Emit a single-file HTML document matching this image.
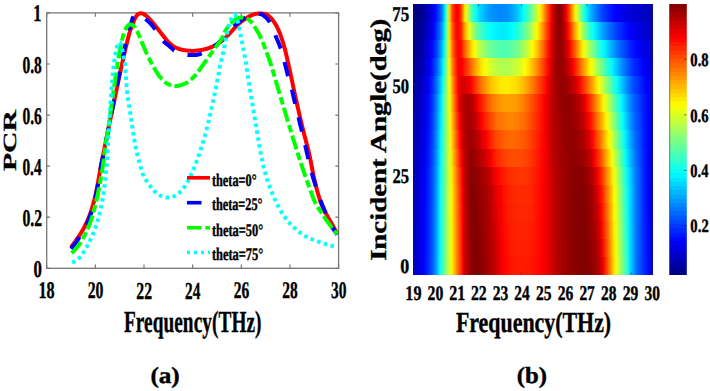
<!DOCTYPE html>
<html><head><meta charset="utf-8"><style>
html,body{margin:0;padding:0;background:#fff;}
svg{display:block;}
text{font-family:"Liberation Serif",serif;font-weight:bold;text-rendering:geometricPrecision;stroke:#000;stroke-width:4px;}
</style></head><body>
<svg width="710" height="391" viewBox="0 0 710 391">
<defs><linearGradient id="r0" gradientUnits="objectBoundingBox" x1="0" y1="0" x2="1" y2="0"><stop offset="0.0079" stop-color="#0000c3"/><stop offset="0.0169" stop-color="#0000d0"/><stop offset="0.0259" stop-color="#0000de"/><stop offset="0.0350" stop-color="#0000ed"/><stop offset="0.0440" stop-color="#0000fd"/><stop offset="0.0530" stop-color="#0010ff"/><stop offset="0.0621" stop-color="#0024ff"/><stop offset="0.0711" stop-color="#003cff"/><stop offset="0.0801" stop-color="#0059ff"/><stop offset="0.0892" stop-color="#007cff"/><stop offset="0.0982" stop-color="#00a7ff"/><stop offset="0.1072" stop-color="#00deff"/><stop offset="0.1163" stop-color="#15ffea"/><stop offset="0.1253" stop-color="#47ffb8"/><stop offset="0.1343" stop-color="#79ff86"/><stop offset="0.1434" stop-color="#aaff55"/><stop offset="0.1524" stop-color="#daff25"/><stop offset="0.1614" stop-color="#fff500"/><stop offset="0.1705" stop-color="#ffc500"/><stop offset="0.1795" stop-color="#ff9600"/><stop offset="0.1885" stop-color="#ff6700"/><stop offset="0.1976" stop-color="#ff3a00"/><stop offset="0.2066" stop-color="#ff0a00"/><stop offset="0.2156" stop-color="#d30000"/><stop offset="0.2247" stop-color="#b10000"/><stop offset="0.2337" stop-color="#a00000"/><stop offset="0.2427" stop-color="#8f0000"/><stop offset="0.2518" stop-color="#860000"/><stop offset="0.2608" stop-color="#810000"/><stop offset="0.2698" stop-color="#830000"/><stop offset="0.2789" stop-color="#880000"/><stop offset="0.2879" stop-color="#8e0000"/><stop offset="0.2969" stop-color="#960000"/><stop offset="0.3060" stop-color="#9d0000"/><stop offset="0.3150" stop-color="#a60000"/><stop offset="0.3240" stop-color="#ae0000"/><stop offset="0.3331" stop-color="#b70000"/><stop offset="0.3421" stop-color="#c30000"/><stop offset="0.3511" stop-color="#d30000"/><stop offset="0.3602" stop-color="#e30000"/><stop offset="0.3692" stop-color="#f10000"/><stop offset="0.3782" stop-color="#fc0000"/><stop offset="0.3873" stop-color="#ff0600"/><stop offset="0.3963" stop-color="#ff0c00"/><stop offset="0.4054" stop-color="#ff1100"/><stop offset="0.4144" stop-color="#ff1500"/><stop offset="0.4234" stop-color="#ff1800"/><stop offset="0.4325" stop-color="#ff1a00"/><stop offset="0.4415" stop-color="#ff1b00"/><stop offset="0.4505" stop-color="#ff1c00"/><stop offset="0.4596" stop-color="#ff1c00"/><stop offset="0.4686" stop-color="#ff1a00"/><stop offset="0.4776" stop-color="#ff1900"/><stop offset="0.4867" stop-color="#ff1700"/><stop offset="0.4957" stop-color="#ff1400"/><stop offset="0.5047" stop-color="#ff1100"/><stop offset="0.5138" stop-color="#ff0d00"/><stop offset="0.5228" stop-color="#ff0800"/><stop offset="0.5318" stop-color="#ff0200"/><stop offset="0.5409" stop-color="#fb0000"/><stop offset="0.5499" stop-color="#f30000"/><stop offset="0.5589" stop-color="#ea0000"/><stop offset="0.5680" stop-color="#df0000"/><stop offset="0.5770" stop-color="#d40000"/><stop offset="0.5860" stop-color="#c70000"/><stop offset="0.5951" stop-color="#ba0000"/><stop offset="0.6041" stop-color="#b30000"/><stop offset="0.6131" stop-color="#ab0000"/><stop offset="0.6222" stop-color="#a40000"/><stop offset="0.6312" stop-color="#9e0000"/><stop offset="0.6402" stop-color="#990000"/><stop offset="0.6493" stop-color="#940000"/><stop offset="0.6583" stop-color="#900000"/><stop offset="0.6673" stop-color="#8c0000"/><stop offset="0.6764" stop-color="#880000"/><stop offset="0.6854" stop-color="#850000"/><stop offset="0.6944" stop-color="#830000"/><stop offset="0.7035" stop-color="#820000"/><stop offset="0.7125" stop-color="#820000"/><stop offset="0.7215" stop-color="#840000"/><stop offset="0.7306" stop-color="#870000"/><stop offset="0.7396" stop-color="#8d0000"/><stop offset="0.7486" stop-color="#930000"/><stop offset="0.7577" stop-color="#9c0000"/><stop offset="0.7667" stop-color="#a80000"/><stop offset="0.7757" stop-color="#b70000"/><stop offset="0.7848" stop-color="#d40000"/><stop offset="0.7938" stop-color="#fd0000"/><stop offset="0.8029" stop-color="#ff2d00"/><stop offset="0.8119" stop-color="#ff5800"/><stop offset="0.8209" stop-color="#ff8600"/><stop offset="0.8300" stop-color="#ffb600"/><stop offset="0.8390" stop-color="#ffe400"/><stop offset="0.8480" stop-color="#eeff11"/><stop offset="0.8571" stop-color="#c3ff3c"/><stop offset="0.8661" stop-color="#9aff65"/><stop offset="0.8751" stop-color="#73ff8c"/><stop offset="0.8842" stop-color="#4dffb2"/><stop offset="0.8932" stop-color="#20ffdf"/><stop offset="0.9022" stop-color="#00ebff"/><stop offset="0.9113" stop-color="#00bfff"/><stop offset="0.9203" stop-color="#0099ff"/><stop offset="0.9293" stop-color="#0079ff"/><stop offset="0.9384" stop-color="#0060ff"/><stop offset="0.9474" stop-color="#004cff"/><stop offset="0.9564" stop-color="#003aff"/><stop offset="0.9655" stop-color="#0028ff"/><stop offset="0.9745" stop-color="#0017ff"/><stop offset="0.9835" stop-color="#0005ff"/><stop offset="0.9926" stop-color="#0000f1"/></linearGradient><linearGradient id="r1" gradientUnits="objectBoundingBox" x1="0" y1="0" x2="1" y2="0"><stop offset="0.0079" stop-color="#0000c1"/><stop offset="0.0169" stop-color="#0000ce"/><stop offset="0.0259" stop-color="#0000dd"/><stop offset="0.0350" stop-color="#0000eb"/><stop offset="0.0440" stop-color="#0000fb"/><stop offset="0.0530" stop-color="#000eff"/><stop offset="0.0621" stop-color="#0022ff"/><stop offset="0.0711" stop-color="#003aff"/><stop offset="0.0801" stop-color="#0057ff"/><stop offset="0.0892" stop-color="#007aff"/><stop offset="0.0982" stop-color="#00a5ff"/><stop offset="0.1072" stop-color="#00dcff"/><stop offset="0.1163" stop-color="#15ffea"/><stop offset="0.1253" stop-color="#47ffb8"/><stop offset="0.1343" stop-color="#78ff87"/><stop offset="0.1434" stop-color="#a9ff56"/><stop offset="0.1524" stop-color="#daff25"/><stop offset="0.1614" stop-color="#fff400"/><stop offset="0.1705" stop-color="#ffc400"/><stop offset="0.1795" stop-color="#ff9400"/><stop offset="0.1885" stop-color="#ff6500"/><stop offset="0.1976" stop-color="#ff3600"/><stop offset="0.2066" stop-color="#ff0400"/><stop offset="0.2156" stop-color="#cf0000"/><stop offset="0.2247" stop-color="#af0000"/><stop offset="0.2337" stop-color="#9d0000"/><stop offset="0.2427" stop-color="#8e0000"/><stop offset="0.2518" stop-color="#860000"/><stop offset="0.2608" stop-color="#830000"/><stop offset="0.2698" stop-color="#850000"/><stop offset="0.2789" stop-color="#8b0000"/><stop offset="0.2879" stop-color="#910000"/><stop offset="0.2969" stop-color="#980000"/><stop offset="0.3060" stop-color="#a00000"/><stop offset="0.3150" stop-color="#a90000"/><stop offset="0.3240" stop-color="#b20000"/><stop offset="0.3331" stop-color="#bb0000"/><stop offset="0.3421" stop-color="#ca0000"/><stop offset="0.3511" stop-color="#da0000"/><stop offset="0.3602" stop-color="#e80000"/><stop offset="0.3692" stop-color="#f50000"/><stop offset="0.3782" stop-color="#ff0100"/><stop offset="0.3873" stop-color="#ff0a00"/><stop offset="0.3963" stop-color="#ff1100"/><stop offset="0.4054" stop-color="#ff1600"/><stop offset="0.4144" stop-color="#ff1a00"/><stop offset="0.4234" stop-color="#ff1c00"/><stop offset="0.4325" stop-color="#ff1e00"/><stop offset="0.4415" stop-color="#ff1f00"/><stop offset="0.4505" stop-color="#ff2000"/><stop offset="0.4596" stop-color="#ff2000"/><stop offset="0.4686" stop-color="#ff1f00"/><stop offset="0.4776" stop-color="#ff1d00"/><stop offset="0.4867" stop-color="#ff1b00"/><stop offset="0.4957" stop-color="#ff1800"/><stop offset="0.5047" stop-color="#ff1400"/><stop offset="0.5138" stop-color="#ff0f00"/><stop offset="0.5228" stop-color="#ff0a00"/><stop offset="0.5318" stop-color="#ff0400"/><stop offset="0.5409" stop-color="#fb0000"/><stop offset="0.5499" stop-color="#f30000"/><stop offset="0.5589" stop-color="#e90000"/><stop offset="0.5680" stop-color="#de0000"/><stop offset="0.5770" stop-color="#d20000"/><stop offset="0.5860" stop-color="#c50000"/><stop offset="0.5951" stop-color="#ba0000"/><stop offset="0.6041" stop-color="#b30000"/><stop offset="0.6131" stop-color="#ab0000"/><stop offset="0.6222" stop-color="#a40000"/><stop offset="0.6312" stop-color="#9e0000"/><stop offset="0.6402" stop-color="#980000"/><stop offset="0.6493" stop-color="#940000"/><stop offset="0.6583" stop-color="#8f0000"/><stop offset="0.6673" stop-color="#8b0000"/><stop offset="0.6764" stop-color="#880000"/><stop offset="0.6854" stop-color="#840000"/><stop offset="0.6944" stop-color="#830000"/><stop offset="0.7035" stop-color="#820000"/><stop offset="0.7125" stop-color="#830000"/><stop offset="0.7215" stop-color="#860000"/><stop offset="0.7306" stop-color="#8a0000"/><stop offset="0.7396" stop-color="#900000"/><stop offset="0.7486" stop-color="#980000"/><stop offset="0.7577" stop-color="#a30000"/><stop offset="0.7667" stop-color="#b00000"/><stop offset="0.7757" stop-color="#c10000"/><stop offset="0.7848" stop-color="#e40000"/><stop offset="0.7938" stop-color="#ff0f00"/><stop offset="0.8029" stop-color="#ff3900"/><stop offset="0.8119" stop-color="#ff6300"/><stop offset="0.8209" stop-color="#ff8f00"/><stop offset="0.8300" stop-color="#ffbe00"/><stop offset="0.8390" stop-color="#ffea00"/><stop offset="0.8480" stop-color="#e8ff17"/><stop offset="0.8571" stop-color="#bdff42"/><stop offset="0.8661" stop-color="#95ff6a"/><stop offset="0.8751" stop-color="#6dff92"/><stop offset="0.8842" stop-color="#46ffb9"/><stop offset="0.8932" stop-color="#19ffe6"/><stop offset="0.9022" stop-color="#00e8ff"/><stop offset="0.9113" stop-color="#00beff"/><stop offset="0.9203" stop-color="#009aff"/><stop offset="0.9293" stop-color="#007aff"/><stop offset="0.9384" stop-color="#0061ff"/><stop offset="0.9474" stop-color="#004cff"/><stop offset="0.9564" stop-color="#0039ff"/><stop offset="0.9655" stop-color="#0026ff"/><stop offset="0.9745" stop-color="#0015ff"/><stop offset="0.9835" stop-color="#0003ff"/><stop offset="0.9926" stop-color="#0000f1"/></linearGradient><linearGradient id="r2" gradientUnits="objectBoundingBox" x1="0" y1="0" x2="1" y2="0"><stop offset="0.0079" stop-color="#0000c0"/><stop offset="0.0169" stop-color="#0000cd"/><stop offset="0.0259" stop-color="#0000db"/><stop offset="0.0350" stop-color="#0000ea"/><stop offset="0.0440" stop-color="#0000f9"/><stop offset="0.0530" stop-color="#000cff"/><stop offset="0.0621" stop-color="#0020ff"/><stop offset="0.0711" stop-color="#0038ff"/><stop offset="0.0801" stop-color="#0055ff"/><stop offset="0.0892" stop-color="#0078ff"/><stop offset="0.0982" stop-color="#00a3ff"/><stop offset="0.1072" stop-color="#00dbff"/><stop offset="0.1163" stop-color="#14ffeb"/><stop offset="0.1253" stop-color="#46ffb9"/><stop offset="0.1343" stop-color="#77ff88"/><stop offset="0.1434" stop-color="#a9ff56"/><stop offset="0.1524" stop-color="#daff25"/><stop offset="0.1614" stop-color="#fff300"/><stop offset="0.1705" stop-color="#ffc200"/><stop offset="0.1795" stop-color="#ff9200"/><stop offset="0.1885" stop-color="#ff6200"/><stop offset="0.1976" stop-color="#ff3300"/><stop offset="0.2066" stop-color="#fe0000"/><stop offset="0.2156" stop-color="#cb0000"/><stop offset="0.2247" stop-color="#ad0000"/><stop offset="0.2337" stop-color="#9a0000"/><stop offset="0.2427" stop-color="#8c0000"/><stop offset="0.2518" stop-color="#860000"/><stop offset="0.2608" stop-color="#850000"/><stop offset="0.2698" stop-color="#880000"/><stop offset="0.2789" stop-color="#8d0000"/><stop offset="0.2879" stop-color="#930000"/><stop offset="0.2969" stop-color="#9b0000"/><stop offset="0.3060" stop-color="#a30000"/><stop offset="0.3150" stop-color="#ac0000"/><stop offset="0.3240" stop-color="#b50000"/><stop offset="0.3331" stop-color="#c00000"/><stop offset="0.3421" stop-color="#d10000"/><stop offset="0.3511" stop-color="#e00000"/><stop offset="0.3602" stop-color="#ed0000"/><stop offset="0.3692" stop-color="#f90000"/><stop offset="0.3782" stop-color="#ff0500"/><stop offset="0.3873" stop-color="#ff0f00"/><stop offset="0.3963" stop-color="#ff1500"/><stop offset="0.4054" stop-color="#ff1a00"/><stop offset="0.4144" stop-color="#ff1e00"/><stop offset="0.4234" stop-color="#ff2000"/><stop offset="0.4325" stop-color="#ff2200"/><stop offset="0.4415" stop-color="#ff2300"/><stop offset="0.4505" stop-color="#ff2300"/><stop offset="0.4596" stop-color="#ff2300"/><stop offset="0.4686" stop-color="#ff2300"/><stop offset="0.4776" stop-color="#ff2100"/><stop offset="0.4867" stop-color="#ff1f00"/><stop offset="0.4957" stop-color="#ff1c00"/><stop offset="0.5047" stop-color="#ff1700"/><stop offset="0.5138" stop-color="#ff1100"/><stop offset="0.5228" stop-color="#ff0b00"/><stop offset="0.5318" stop-color="#ff0500"/><stop offset="0.5409" stop-color="#fc0000"/><stop offset="0.5499" stop-color="#f30000"/><stop offset="0.5589" stop-color="#e90000"/><stop offset="0.5680" stop-color="#dd0000"/><stop offset="0.5770" stop-color="#d10000"/><stop offset="0.5860" stop-color="#c40000"/><stop offset="0.5951" stop-color="#ba0000"/><stop offset="0.6041" stop-color="#b20000"/><stop offset="0.6131" stop-color="#ab0000"/><stop offset="0.6222" stop-color="#a40000"/><stop offset="0.6312" stop-color="#9d0000"/><stop offset="0.6402" stop-color="#980000"/><stop offset="0.6493" stop-color="#930000"/><stop offset="0.6583" stop-color="#8f0000"/><stop offset="0.6673" stop-color="#8b0000"/><stop offset="0.6764" stop-color="#870000"/><stop offset="0.6854" stop-color="#840000"/><stop offset="0.6944" stop-color="#830000"/><stop offset="0.7035" stop-color="#830000"/><stop offset="0.7125" stop-color="#840000"/><stop offset="0.7215" stop-color="#880000"/><stop offset="0.7306" stop-color="#8c0000"/><stop offset="0.7396" stop-color="#930000"/><stop offset="0.7486" stop-color="#9d0000"/><stop offset="0.7577" stop-color="#aa0000"/><stop offset="0.7667" stop-color="#b90000"/><stop offset="0.7757" stop-color="#d10000"/><stop offset="0.7848" stop-color="#f40000"/><stop offset="0.7938" stop-color="#ff1e00"/><stop offset="0.8029" stop-color="#ff4600"/><stop offset="0.8119" stop-color="#ff6f00"/><stop offset="0.8209" stop-color="#ff9700"/><stop offset="0.8300" stop-color="#ffc500"/><stop offset="0.8390" stop-color="#fff100"/><stop offset="0.8480" stop-color="#e3ff1c"/><stop offset="0.8571" stop-color="#b8ff47"/><stop offset="0.8661" stop-color="#90ff6f"/><stop offset="0.8751" stop-color="#67ff98"/><stop offset="0.8842" stop-color="#3effc1"/><stop offset="0.8932" stop-color="#12ffed"/><stop offset="0.9022" stop-color="#00e4ff"/><stop offset="0.9113" stop-color="#00bdff"/><stop offset="0.9203" stop-color="#009aff"/><stop offset="0.9293" stop-color="#007bff"/><stop offset="0.9384" stop-color="#0062ff"/><stop offset="0.9474" stop-color="#004cff"/><stop offset="0.9564" stop-color="#0037ff"/><stop offset="0.9655" stop-color="#0024ff"/><stop offset="0.9745" stop-color="#0013ff"/><stop offset="0.9835" stop-color="#0002ff"/><stop offset="0.9926" stop-color="#0000f0"/></linearGradient><linearGradient id="r3" gradientUnits="objectBoundingBox" x1="0" y1="0" x2="1" y2="0"><stop offset="0.0079" stop-color="#0000be"/><stop offset="0.0169" stop-color="#0000cb"/><stop offset="0.0259" stop-color="#0000d9"/><stop offset="0.0350" stop-color="#0000e8"/><stop offset="0.0440" stop-color="#0000f8"/><stop offset="0.0530" stop-color="#000aff"/><stop offset="0.0621" stop-color="#001fff"/><stop offset="0.0711" stop-color="#0037ff"/><stop offset="0.0801" stop-color="#0053ff"/><stop offset="0.0892" stop-color="#0076ff"/><stop offset="0.0982" stop-color="#00a2ff"/><stop offset="0.1072" stop-color="#00daff"/><stop offset="0.1163" stop-color="#13ffec"/><stop offset="0.1253" stop-color="#45ffba"/><stop offset="0.1343" stop-color="#76ff89"/><stop offset="0.1434" stop-color="#a8ff57"/><stop offset="0.1524" stop-color="#dbff24"/><stop offset="0.1614" stop-color="#fff200"/><stop offset="0.1705" stop-color="#ffc000"/><stop offset="0.1795" stop-color="#ff9000"/><stop offset="0.1885" stop-color="#ff6000"/><stop offset="0.1976" stop-color="#ff3000"/><stop offset="0.2066" stop-color="#f90000"/><stop offset="0.2156" stop-color="#c70000"/><stop offset="0.2247" stop-color="#ab0000"/><stop offset="0.2337" stop-color="#960000"/><stop offset="0.2427" stop-color="#8b0000"/><stop offset="0.2518" stop-color="#860000"/><stop offset="0.2608" stop-color="#860000"/><stop offset="0.2698" stop-color="#8b0000"/><stop offset="0.2789" stop-color="#900000"/><stop offset="0.2879" stop-color="#960000"/><stop offset="0.2969" stop-color="#9e0000"/><stop offset="0.3060" stop-color="#a60000"/><stop offset="0.3150" stop-color="#af0000"/><stop offset="0.3240" stop-color="#b90000"/><stop offset="0.3331" stop-color="#c70000"/><stop offset="0.3421" stop-color="#d80000"/><stop offset="0.3511" stop-color="#e60000"/><stop offset="0.3602" stop-color="#f20000"/><stop offset="0.3692" stop-color="#fd0000"/><stop offset="0.3782" stop-color="#ff0a00"/><stop offset="0.3873" stop-color="#ff1300"/><stop offset="0.3963" stop-color="#ff1900"/><stop offset="0.4054" stop-color="#ff1e00"/><stop offset="0.4144" stop-color="#ff2100"/><stop offset="0.4234" stop-color="#ff2400"/><stop offset="0.4325" stop-color="#ff2600"/><stop offset="0.4415" stop-color="#ff2700"/><stop offset="0.4505" stop-color="#ff2700"/><stop offset="0.4596" stop-color="#ff2700"/><stop offset="0.4686" stop-color="#ff2700"/><stop offset="0.4776" stop-color="#ff2500"/><stop offset="0.4867" stop-color="#ff2200"/><stop offset="0.4957" stop-color="#ff1f00"/><stop offset="0.5047" stop-color="#ff1900"/><stop offset="0.5138" stop-color="#ff1300"/><stop offset="0.5228" stop-color="#ff0c00"/><stop offset="0.5318" stop-color="#ff0600"/><stop offset="0.5409" stop-color="#fd0000"/><stop offset="0.5499" stop-color="#f30000"/><stop offset="0.5589" stop-color="#e80000"/><stop offset="0.5680" stop-color="#dc0000"/><stop offset="0.5770" stop-color="#d00000"/><stop offset="0.5860" stop-color="#c20000"/><stop offset="0.5951" stop-color="#b90000"/><stop offset="0.6041" stop-color="#b20000"/><stop offset="0.6131" stop-color="#aa0000"/><stop offset="0.6222" stop-color="#a30000"/><stop offset="0.6312" stop-color="#9d0000"/><stop offset="0.6402" stop-color="#970000"/><stop offset="0.6493" stop-color="#920000"/><stop offset="0.6583" stop-color="#8e0000"/><stop offset="0.6673" stop-color="#8a0000"/><stop offset="0.6764" stop-color="#870000"/><stop offset="0.6854" stop-color="#840000"/><stop offset="0.6944" stop-color="#830000"/><stop offset="0.7035" stop-color="#830000"/><stop offset="0.7125" stop-color="#850000"/><stop offset="0.7215" stop-color="#8a0000"/><stop offset="0.7306" stop-color="#8f0000"/><stop offset="0.7396" stop-color="#970000"/><stop offset="0.7486" stop-color="#a20000"/><stop offset="0.7577" stop-color="#b20000"/><stop offset="0.7667" stop-color="#c30000"/><stop offset="0.7757" stop-color="#e00000"/><stop offset="0.7848" stop-color="#ff0400"/><stop offset="0.7938" stop-color="#ff2b00"/><stop offset="0.8029" stop-color="#ff5200"/><stop offset="0.8119" stop-color="#ff7a00"/><stop offset="0.8209" stop-color="#ffa000"/><stop offset="0.8300" stop-color="#ffcd00"/><stop offset="0.8390" stop-color="#fff700"/><stop offset="0.8480" stop-color="#ddff22"/><stop offset="0.8571" stop-color="#b2ff4d"/><stop offset="0.8661" stop-color="#8aff75"/><stop offset="0.8751" stop-color="#60ff9f"/><stop offset="0.8842" stop-color="#36ffc9"/><stop offset="0.8932" stop-color="#0bfff4"/><stop offset="0.9022" stop-color="#00e0ff"/><stop offset="0.9113" stop-color="#00bcff"/><stop offset="0.9203" stop-color="#009aff"/><stop offset="0.9293" stop-color="#007cff"/><stop offset="0.9384" stop-color="#0063ff"/><stop offset="0.9474" stop-color="#004cff"/><stop offset="0.9564" stop-color="#0036ff"/><stop offset="0.9655" stop-color="#0023ff"/><stop offset="0.9745" stop-color="#0011ff"/><stop offset="0.9835" stop-color="#0000ff"/><stop offset="0.9926" stop-color="#0000f0"/></linearGradient><linearGradient id="r4" gradientUnits="objectBoundingBox" x1="0" y1="0" x2="1" y2="0"><stop offset="0.0079" stop-color="#0000bc"/><stop offset="0.0169" stop-color="#0000c9"/><stop offset="0.0259" stop-color="#0000d7"/><stop offset="0.0350" stop-color="#0000e6"/><stop offset="0.0440" stop-color="#0000f6"/><stop offset="0.0530" stop-color="#0008ff"/><stop offset="0.0621" stop-color="#001dff"/><stop offset="0.0711" stop-color="#0035ff"/><stop offset="0.0801" stop-color="#0052ff"/><stop offset="0.0892" stop-color="#0075ff"/><stop offset="0.0982" stop-color="#00a0ff"/><stop offset="0.1072" stop-color="#00d8ff"/><stop offset="0.1163" stop-color="#12ffed"/><stop offset="0.1253" stop-color="#44ffbb"/><stop offset="0.1343" stop-color="#76ff89"/><stop offset="0.1434" stop-color="#a8ff57"/><stop offset="0.1524" stop-color="#dbff24"/><stop offset="0.1614" stop-color="#fff100"/><stop offset="0.1705" stop-color="#ffbf00"/><stop offset="0.1795" stop-color="#ff8e00"/><stop offset="0.1885" stop-color="#ff5d00"/><stop offset="0.1976" stop-color="#ff2d00"/><stop offset="0.2066" stop-color="#f40000"/><stop offset="0.2156" stop-color="#c30000"/><stop offset="0.2247" stop-color="#a90000"/><stop offset="0.2337" stop-color="#920000"/><stop offset="0.2427" stop-color="#880000"/><stop offset="0.2518" stop-color="#870000"/><stop offset="0.2608" stop-color="#880000"/><stop offset="0.2698" stop-color="#8d0000"/><stop offset="0.2789" stop-color="#930000"/><stop offset="0.2879" stop-color="#990000"/><stop offset="0.2969" stop-color="#a00000"/><stop offset="0.3060" stop-color="#a90000"/><stop offset="0.3150" stop-color="#b30000"/><stop offset="0.3240" stop-color="#bd0000"/><stop offset="0.3331" stop-color="#cd0000"/><stop offset="0.3421" stop-color="#df0000"/><stop offset="0.3511" stop-color="#ec0000"/><stop offset="0.3602" stop-color="#f70000"/><stop offset="0.3692" stop-color="#ff0200"/><stop offset="0.3782" stop-color="#ff0e00"/><stop offset="0.3873" stop-color="#ff1700"/><stop offset="0.3963" stop-color="#ff1d00"/><stop offset="0.4054" stop-color="#ff2100"/><stop offset="0.4144" stop-color="#ff2500"/><stop offset="0.4234" stop-color="#ff2700"/><stop offset="0.4325" stop-color="#ff2a00"/><stop offset="0.4415" stop-color="#ff2b00"/><stop offset="0.4505" stop-color="#ff2b00"/><stop offset="0.4596" stop-color="#ff2b00"/><stop offset="0.4686" stop-color="#ff2a00"/><stop offset="0.4776" stop-color="#ff2800"/><stop offset="0.4867" stop-color="#ff2500"/><stop offset="0.4957" stop-color="#ff2200"/><stop offset="0.5047" stop-color="#ff1c00"/><stop offset="0.5138" stop-color="#ff1500"/><stop offset="0.5228" stop-color="#ff0e00"/><stop offset="0.5318" stop-color="#ff0700"/><stop offset="0.5409" stop-color="#fe0000"/><stop offset="0.5499" stop-color="#f40000"/><stop offset="0.5589" stop-color="#e80000"/><stop offset="0.5680" stop-color="#db0000"/><stop offset="0.5770" stop-color="#ce0000"/><stop offset="0.5860" stop-color="#c10000"/><stop offset="0.5951" stop-color="#b90000"/><stop offset="0.6041" stop-color="#b10000"/><stop offset="0.6131" stop-color="#aa0000"/><stop offset="0.6222" stop-color="#a30000"/><stop offset="0.6312" stop-color="#9c0000"/><stop offset="0.6402" stop-color="#970000"/><stop offset="0.6493" stop-color="#920000"/><stop offset="0.6583" stop-color="#8d0000"/><stop offset="0.6673" stop-color="#890000"/><stop offset="0.6764" stop-color="#860000"/><stop offset="0.6854" stop-color="#840000"/><stop offset="0.6944" stop-color="#830000"/><stop offset="0.7035" stop-color="#830000"/><stop offset="0.7125" stop-color="#860000"/><stop offset="0.7215" stop-color="#8b0000"/><stop offset="0.7306" stop-color="#920000"/><stop offset="0.7396" stop-color="#9b0000"/><stop offset="0.7486" stop-color="#a80000"/><stop offset="0.7577" stop-color="#ba0000"/><stop offset="0.7667" stop-color="#d20000"/><stop offset="0.7757" stop-color="#ef0000"/><stop offset="0.7848" stop-color="#ff1300"/><stop offset="0.7938" stop-color="#ff3800"/><stop offset="0.8029" stop-color="#ff5f00"/><stop offset="0.8119" stop-color="#ff8600"/><stop offset="0.8209" stop-color="#ffa900"/><stop offset="0.8300" stop-color="#ffd500"/><stop offset="0.8390" stop-color="#fffd00"/><stop offset="0.8480" stop-color="#d7ff28"/><stop offset="0.8571" stop-color="#acff53"/><stop offset="0.8661" stop-color="#85ff7a"/><stop offset="0.8751" stop-color="#5affa5"/><stop offset="0.8842" stop-color="#2fffd0"/><stop offset="0.8932" stop-color="#04fffb"/><stop offset="0.9022" stop-color="#00ddff"/><stop offset="0.9113" stop-color="#00bbff"/><stop offset="0.9203" stop-color="#009aff"/><stop offset="0.9293" stop-color="#007dff"/><stop offset="0.9384" stop-color="#0064ff"/><stop offset="0.9474" stop-color="#004dff"/><stop offset="0.9564" stop-color="#0035ff"/><stop offset="0.9655" stop-color="#0021ff"/><stop offset="0.9745" stop-color="#000fff"/><stop offset="0.9835" stop-color="#0000fe"/><stop offset="0.9926" stop-color="#0000f0"/></linearGradient><linearGradient id="r5" gradientUnits="objectBoundingBox" x1="0" y1="0" x2="1" y2="0"><stop offset="0.0079" stop-color="#0000ba"/><stop offset="0.0169" stop-color="#0000c7"/><stop offset="0.0259" stop-color="#0000d4"/><stop offset="0.0350" stop-color="#0000e3"/><stop offset="0.0440" stop-color="#0000f3"/><stop offset="0.0530" stop-color="#0005ff"/><stop offset="0.0621" stop-color="#001aff"/><stop offset="0.0711" stop-color="#0032ff"/><stop offset="0.0801" stop-color="#004eff"/><stop offset="0.0892" stop-color="#0072ff"/><stop offset="0.0982" stop-color="#009dff"/><stop offset="0.1072" stop-color="#00d5ff"/><stop offset="0.1163" stop-color="#0efff1"/><stop offset="0.1253" stop-color="#41ffbe"/><stop offset="0.1343" stop-color="#75ff8a"/><stop offset="0.1434" stop-color="#a9ff56"/><stop offset="0.1524" stop-color="#ddff22"/><stop offset="0.1614" stop-color="#ffec00"/><stop offset="0.1705" stop-color="#ffb900"/><stop offset="0.1795" stop-color="#ff8700"/><stop offset="0.1885" stop-color="#ff5500"/><stop offset="0.1976" stop-color="#ff2500"/><stop offset="0.2066" stop-color="#ec0000"/><stop offset="0.2156" stop-color="#c00000"/><stop offset="0.2247" stop-color="#a70000"/><stop offset="0.2337" stop-color="#920000"/><stop offset="0.2427" stop-color="#8b0000"/><stop offset="0.2518" stop-color="#8c0000"/><stop offset="0.2608" stop-color="#8f0000"/><stop offset="0.2698" stop-color="#950000"/><stop offset="0.2789" stop-color="#9c0000"/><stop offset="0.2879" stop-color="#a30000"/><stop offset="0.2969" stop-color="#ab0000"/><stop offset="0.3060" stop-color="#b40000"/><stop offset="0.3150" stop-color="#be0000"/><stop offset="0.3240" stop-color="#cd0000"/><stop offset="0.3331" stop-color="#e00000"/><stop offset="0.3421" stop-color="#f10000"/><stop offset="0.3511" stop-color="#fe0000"/><stop offset="0.3602" stop-color="#ff0900"/><stop offset="0.3692" stop-color="#ff1300"/><stop offset="0.3782" stop-color="#ff1d00"/><stop offset="0.3873" stop-color="#ff2500"/><stop offset="0.3963" stop-color="#ff2a00"/><stop offset="0.4054" stop-color="#ff2d00"/><stop offset="0.4144" stop-color="#ff3000"/><stop offset="0.4234" stop-color="#ff3200"/><stop offset="0.4325" stop-color="#ff3400"/><stop offset="0.4415" stop-color="#ff3500"/><stop offset="0.4505" stop-color="#ff3400"/><stop offset="0.4596" stop-color="#ff3400"/><stop offset="0.4686" stop-color="#ff3300"/><stop offset="0.4776" stop-color="#ff3000"/><stop offset="0.4867" stop-color="#ff2b00"/><stop offset="0.4957" stop-color="#ff2700"/><stop offset="0.5047" stop-color="#ff2000"/><stop offset="0.5138" stop-color="#ff1900"/><stop offset="0.5228" stop-color="#ff1100"/><stop offset="0.5318" stop-color="#ff0900"/><stop offset="0.5409" stop-color="#ff0000"/><stop offset="0.5499" stop-color="#f40000"/><stop offset="0.5589" stop-color="#e80000"/><stop offset="0.5680" stop-color="#da0000"/><stop offset="0.5770" stop-color="#cc0000"/><stop offset="0.5860" stop-color="#c00000"/><stop offset="0.5951" stop-color="#b70000"/><stop offset="0.6041" stop-color="#b00000"/><stop offset="0.6131" stop-color="#a80000"/><stop offset="0.6222" stop-color="#a20000"/><stop offset="0.6312" stop-color="#9b0000"/><stop offset="0.6402" stop-color="#960000"/><stop offset="0.6493" stop-color="#920000"/><stop offset="0.6583" stop-color="#8e0000"/><stop offset="0.6673" stop-color="#8a0000"/><stop offset="0.6764" stop-color="#880000"/><stop offset="0.6854" stop-color="#880000"/><stop offset="0.6944" stop-color="#890000"/><stop offset="0.7035" stop-color="#8a0000"/><stop offset="0.7125" stop-color="#8d0000"/><stop offset="0.7215" stop-color="#930000"/><stop offset="0.7306" stop-color="#9b0000"/><stop offset="0.7396" stop-color="#a60000"/><stop offset="0.7486" stop-color="#b50000"/><stop offset="0.7577" stop-color="#cd0000"/><stop offset="0.7667" stop-color="#ec0000"/><stop offset="0.7757" stop-color="#ff0a00"/><stop offset="0.7848" stop-color="#ff2b00"/><stop offset="0.7938" stop-color="#ff4e00"/><stop offset="0.8029" stop-color="#ff7500"/><stop offset="0.8119" stop-color="#ff9b00"/><stop offset="0.8209" stop-color="#ffbc00"/><stop offset="0.8300" stop-color="#ffe600"/><stop offset="0.8390" stop-color="#f0ff0f"/><stop offset="0.8480" stop-color="#c8ff37"/><stop offset="0.8571" stop-color="#9eff61"/><stop offset="0.8661" stop-color="#77ff88"/><stop offset="0.8751" stop-color="#4dffb2"/><stop offset="0.8842" stop-color="#22ffdd"/><stop offset="0.8932" stop-color="#00f8ff"/><stop offset="0.9022" stop-color="#00d4ff"/><stop offset="0.9113" stop-color="#00b5ff"/><stop offset="0.9203" stop-color="#0096ff"/><stop offset="0.9293" stop-color="#007bff"/><stop offset="0.9384" stop-color="#0062ff"/><stop offset="0.9474" stop-color="#004bff"/><stop offset="0.9564" stop-color="#0033ff"/><stop offset="0.9655" stop-color="#001fff"/><stop offset="0.9745" stop-color="#000dff"/><stop offset="0.9835" stop-color="#0000fd"/><stop offset="0.9926" stop-color="#0000f0"/></linearGradient><linearGradient id="r6" gradientUnits="objectBoundingBox" x1="0" y1="0" x2="1" y2="0"><stop offset="0.0079" stop-color="#0000b6"/><stop offset="0.0169" stop-color="#0000c1"/><stop offset="0.0259" stop-color="#0000cf"/><stop offset="0.0350" stop-color="#0000dd"/><stop offset="0.0440" stop-color="#0000ed"/><stop offset="0.0530" stop-color="#0000fe"/><stop offset="0.0621" stop-color="#0014ff"/><stop offset="0.0711" stop-color="#002cff"/><stop offset="0.0801" stop-color="#0048ff"/><stop offset="0.0892" stop-color="#006bff"/><stop offset="0.0982" stop-color="#0096ff"/><stop offset="0.1072" stop-color="#00ccff"/><stop offset="0.1163" stop-color="#05fffa"/><stop offset="0.1253" stop-color="#3cffc3"/><stop offset="0.1343" stop-color="#75ff8a"/><stop offset="0.1434" stop-color="#abff54"/><stop offset="0.1524" stop-color="#e3ff1c"/><stop offset="0.1614" stop-color="#ffe200"/><stop offset="0.1705" stop-color="#ffab00"/><stop offset="0.1795" stop-color="#ff7500"/><stop offset="0.1885" stop-color="#ff4300"/><stop offset="0.1976" stop-color="#ff1200"/><stop offset="0.2066" stop-color="#de0000"/><stop offset="0.2156" stop-color="#bc0000"/><stop offset="0.2247" stop-color="#a80000"/><stop offset="0.2337" stop-color="#980000"/><stop offset="0.2427" stop-color="#940000"/><stop offset="0.2518" stop-color="#980000"/><stop offset="0.2608" stop-color="#9f0000"/><stop offset="0.2698" stop-color="#a80000"/><stop offset="0.2789" stop-color="#b20000"/><stop offset="0.2879" stop-color="#bc0000"/><stop offset="0.2969" stop-color="#c70000"/><stop offset="0.3060" stop-color="#d70000"/><stop offset="0.3150" stop-color="#e80000"/><stop offset="0.3240" stop-color="#fa0000"/><stop offset="0.3331" stop-color="#ff0d00"/><stop offset="0.3421" stop-color="#ff1d00"/><stop offset="0.3511" stop-color="#ff2700"/><stop offset="0.3602" stop-color="#ff2f00"/><stop offset="0.3692" stop-color="#ff3600"/><stop offset="0.3782" stop-color="#ff3e00"/><stop offset="0.3873" stop-color="#ff4400"/><stop offset="0.3963" stop-color="#ff4800"/><stop offset="0.4054" stop-color="#ff4a00"/><stop offset="0.4144" stop-color="#ff4b00"/><stop offset="0.4234" stop-color="#ff4d00"/><stop offset="0.4325" stop-color="#ff4d00"/><stop offset="0.4415" stop-color="#ff4c00"/><stop offset="0.4505" stop-color="#ff4900"/><stop offset="0.4596" stop-color="#ff4700"/><stop offset="0.4686" stop-color="#ff4300"/><stop offset="0.4776" stop-color="#ff3e00"/><stop offset="0.4867" stop-color="#ff3800"/><stop offset="0.4957" stop-color="#ff3100"/><stop offset="0.5047" stop-color="#ff2900"/><stop offset="0.5138" stop-color="#ff2000"/><stop offset="0.5228" stop-color="#ff1700"/><stop offset="0.5318" stop-color="#ff0d00"/><stop offset="0.5409" stop-color="#ff0200"/><stop offset="0.5499" stop-color="#f60000"/><stop offset="0.5589" stop-color="#e80000"/><stop offset="0.5680" stop-color="#d80000"/><stop offset="0.5770" stop-color="#c80000"/><stop offset="0.5860" stop-color="#bd0000"/><stop offset="0.5951" stop-color="#b40000"/><stop offset="0.6041" stop-color="#ac0000"/><stop offset="0.6131" stop-color="#a50000"/><stop offset="0.6222" stop-color="#9f0000"/><stop offset="0.6312" stop-color="#990000"/><stop offset="0.6402" stop-color="#950000"/><stop offset="0.6493" stop-color="#920000"/><stop offset="0.6583" stop-color="#8f0000"/><stop offset="0.6673" stop-color="#8e0000"/><stop offset="0.6764" stop-color="#8f0000"/><stop offset="0.6854" stop-color="#910000"/><stop offset="0.6944" stop-color="#950000"/><stop offset="0.7035" stop-color="#990000"/><stop offset="0.7125" stop-color="#9f0000"/><stop offset="0.7215" stop-color="#a80000"/><stop offset="0.7306" stop-color="#b40000"/><stop offset="0.7396" stop-color="#c10000"/><stop offset="0.7486" stop-color="#da0000"/><stop offset="0.7577" stop-color="#fc0000"/><stop offset="0.7667" stop-color="#ff1d00"/><stop offset="0.7757" stop-color="#ff3800"/><stop offset="0.7848" stop-color="#ff5600"/><stop offset="0.7938" stop-color="#ff7800"/><stop offset="0.8029" stop-color="#ff9e00"/><stop offset="0.8119" stop-color="#ffc300"/><stop offset="0.8209" stop-color="#ffe400"/><stop offset="0.8300" stop-color="#f2ff0d"/><stop offset="0.8390" stop-color="#ccff33"/><stop offset="0.8480" stop-color="#a6ff59"/><stop offset="0.8571" stop-color="#7fff80"/><stop offset="0.8661" stop-color="#5affa5"/><stop offset="0.8751" stop-color="#33ffcc"/><stop offset="0.8842" stop-color="#0bfff4"/><stop offset="0.8932" stop-color="#00e5ff"/><stop offset="0.9022" stop-color="#00c3ff"/><stop offset="0.9113" stop-color="#00a5ff"/><stop offset="0.9203" stop-color="#008aff"/><stop offset="0.9293" stop-color="#0071ff"/><stop offset="0.9384" stop-color="#005bff"/><stop offset="0.9474" stop-color="#0045ff"/><stop offset="0.9564" stop-color="#0030ff"/><stop offset="0.9655" stop-color="#001dff"/><stop offset="0.9745" stop-color="#000cff"/><stop offset="0.9835" stop-color="#0000fd"/><stop offset="0.9926" stop-color="#0000f0"/></linearGradient><linearGradient id="r7" gradientUnits="objectBoundingBox" x1="0" y1="0" x2="1" y2="0"><stop offset="0.0079" stop-color="#0000b1"/><stop offset="0.0169" stop-color="#0000bc"/><stop offset="0.0259" stop-color="#0000c9"/><stop offset="0.0350" stop-color="#0000d7"/><stop offset="0.0440" stop-color="#0000e7"/><stop offset="0.0530" stop-color="#0000f8"/><stop offset="0.0621" stop-color="#000eff"/><stop offset="0.0711" stop-color="#0025ff"/><stop offset="0.0801" stop-color="#0042ff"/><stop offset="0.0892" stop-color="#0065ff"/><stop offset="0.0982" stop-color="#008fff"/><stop offset="0.1072" stop-color="#00c3ff"/><stop offset="0.1163" stop-color="#00fbff"/><stop offset="0.1253" stop-color="#37ffc8"/><stop offset="0.1343" stop-color="#76ff89"/><stop offset="0.1434" stop-color="#aeff51"/><stop offset="0.1524" stop-color="#e9ff16"/><stop offset="0.1614" stop-color="#ffd800"/><stop offset="0.1705" stop-color="#ff9c00"/><stop offset="0.1795" stop-color="#ff6300"/><stop offset="0.1885" stop-color="#ff3000"/><stop offset="0.1976" stop-color="#fd0000"/><stop offset="0.2066" stop-color="#d10000"/><stop offset="0.2156" stop-color="#b70000"/><stop offset="0.2247" stop-color="#a90000"/><stop offset="0.2337" stop-color="#9e0000"/><stop offset="0.2427" stop-color="#9e0000"/><stop offset="0.2518" stop-color="#a60000"/><stop offset="0.2608" stop-color="#b10000"/><stop offset="0.2698" stop-color="#bd0000"/><stop offset="0.2789" stop-color="#cc0000"/><stop offset="0.2879" stop-color="#dd0000"/><stop offset="0.2969" stop-color="#ef0000"/><stop offset="0.3060" stop-color="#ff0100"/><stop offset="0.3150" stop-color="#ff1400"/><stop offset="0.3240" stop-color="#ff2400"/><stop offset="0.3331" stop-color="#ff3300"/><stop offset="0.3421" stop-color="#ff4000"/><stop offset="0.3511" stop-color="#ff4a00"/><stop offset="0.3602" stop-color="#ff5200"/><stop offset="0.3692" stop-color="#ff5800"/><stop offset="0.3782" stop-color="#ff5e00"/><stop offset="0.3873" stop-color="#ff6300"/><stop offset="0.3963" stop-color="#ff6600"/><stop offset="0.4054" stop-color="#ff6700"/><stop offset="0.4144" stop-color="#ff6700"/><stop offset="0.4234" stop-color="#ff6700"/><stop offset="0.4325" stop-color="#ff6500"/><stop offset="0.4415" stop-color="#ff6200"/><stop offset="0.4505" stop-color="#ff5e00"/><stop offset="0.4596" stop-color="#ff5a00"/><stop offset="0.4686" stop-color="#ff5400"/><stop offset="0.4776" stop-color="#ff4c00"/><stop offset="0.4867" stop-color="#ff4400"/><stop offset="0.4957" stop-color="#ff3b00"/><stop offset="0.5047" stop-color="#ff3100"/><stop offset="0.5138" stop-color="#ff2700"/><stop offset="0.5228" stop-color="#ff1d00"/><stop offset="0.5318" stop-color="#ff1100"/><stop offset="0.5409" stop-color="#ff0500"/><stop offset="0.5499" stop-color="#f70000"/><stop offset="0.5589" stop-color="#e90000"/><stop offset="0.5680" stop-color="#d70000"/><stop offset="0.5770" stop-color="#c50000"/><stop offset="0.5860" stop-color="#ba0000"/><stop offset="0.5951" stop-color="#b10000"/><stop offset="0.6041" stop-color="#a90000"/><stop offset="0.6131" stop-color="#a20000"/><stop offset="0.6222" stop-color="#9c0000"/><stop offset="0.6312" stop-color="#970000"/><stop offset="0.6402" stop-color="#940000"/><stop offset="0.6493" stop-color="#920000"/><stop offset="0.6583" stop-color="#910000"/><stop offset="0.6673" stop-color="#920000"/><stop offset="0.6764" stop-color="#950000"/><stop offset="0.6854" stop-color="#9b0000"/><stop offset="0.6944" stop-color="#a10000"/><stop offset="0.7035" stop-color="#a80000"/><stop offset="0.7125" stop-color="#b20000"/><stop offset="0.7215" stop-color="#bf0000"/><stop offset="0.7306" stop-color="#d10000"/><stop offset="0.7396" stop-color="#e90000"/><stop offset="0.7486" stop-color="#ff0700"/><stop offset="0.7577" stop-color="#ff2800"/><stop offset="0.7667" stop-color="#ff4500"/><stop offset="0.7757" stop-color="#ff6100"/><stop offset="0.7848" stop-color="#ff8100"/><stop offset="0.7938" stop-color="#ffa300"/><stop offset="0.8029" stop-color="#ffc700"/><stop offset="0.8119" stop-color="#ffeb00"/><stop offset="0.8209" stop-color="#f2ff0d"/><stop offset="0.8300" stop-color="#cdff32"/><stop offset="0.8390" stop-color="#a8ff57"/><stop offset="0.8480" stop-color="#84ff7b"/><stop offset="0.8571" stop-color="#5fffa0"/><stop offset="0.8661" stop-color="#3cffc3"/><stop offset="0.8751" stop-color="#18ffe7"/><stop offset="0.8842" stop-color="#00f4ff"/><stop offset="0.8932" stop-color="#00d1ff"/><stop offset="0.9022" stop-color="#00b1ff"/><stop offset="0.9113" stop-color="#0096ff"/><stop offset="0.9203" stop-color="#007dff"/><stop offset="0.9293" stop-color="#0067ff"/><stop offset="0.9384" stop-color="#0053ff"/><stop offset="0.9474" stop-color="#0040ff"/><stop offset="0.9564" stop-color="#002cff"/><stop offset="0.9655" stop-color="#001bff"/><stop offset="0.9745" stop-color="#000cff"/><stop offset="0.9835" stop-color="#0000fd"/><stop offset="0.9926" stop-color="#0000f1"/></linearGradient><linearGradient id="r8" gradientUnits="objectBoundingBox" x1="0" y1="0" x2="1" y2="0"><stop offset="0.0079" stop-color="#0000ad"/><stop offset="0.0169" stop-color="#0000b7"/><stop offset="0.0259" stop-color="#0000c3"/><stop offset="0.0350" stop-color="#0000d1"/><stop offset="0.0440" stop-color="#0000e1"/><stop offset="0.0530" stop-color="#0000f2"/><stop offset="0.0621" stop-color="#0008ff"/><stop offset="0.0711" stop-color="#001fff"/><stop offset="0.0801" stop-color="#003cff"/><stop offset="0.0892" stop-color="#005fff"/><stop offset="0.0982" stop-color="#0088ff"/><stop offset="0.1072" stop-color="#00baff"/><stop offset="0.1163" stop-color="#00f1ff"/><stop offset="0.1253" stop-color="#31ffce"/><stop offset="0.1343" stop-color="#76ff89"/><stop offset="0.1434" stop-color="#b0ff4f"/><stop offset="0.1524" stop-color="#f0ff0f"/><stop offset="0.1614" stop-color="#ffce00"/><stop offset="0.1705" stop-color="#ff8d00"/><stop offset="0.1795" stop-color="#ff5200"/><stop offset="0.1885" stop-color="#ff1e00"/><stop offset="0.1976" stop-color="#ea0000"/><stop offset="0.2066" stop-color="#c50000"/><stop offset="0.2156" stop-color="#b30000"/><stop offset="0.2247" stop-color="#a90000"/><stop offset="0.2337" stop-color="#a40000"/><stop offset="0.2427" stop-color="#a90000"/><stop offset="0.2518" stop-color="#b40000"/><stop offset="0.2608" stop-color="#c30000"/><stop offset="0.2698" stop-color="#d70000"/><stop offset="0.2789" stop-color="#ed0000"/><stop offset="0.2879" stop-color="#ff0300"/><stop offset="0.2969" stop-color="#ff1700"/><stop offset="0.3060" stop-color="#ff2800"/><stop offset="0.3150" stop-color="#ff3800"/><stop offset="0.3240" stop-color="#ff4800"/><stop offset="0.3331" stop-color="#ff5600"/><stop offset="0.3421" stop-color="#ff6300"/><stop offset="0.3511" stop-color="#ff6d00"/><stop offset="0.3602" stop-color="#ff7400"/><stop offset="0.3692" stop-color="#ff7a00"/><stop offset="0.3782" stop-color="#ff7f00"/><stop offset="0.3873" stop-color="#ff8200"/><stop offset="0.3963" stop-color="#ff8400"/><stop offset="0.4054" stop-color="#ff8400"/><stop offset="0.4144" stop-color="#ff8200"/><stop offset="0.4234" stop-color="#ff8100"/><stop offset="0.4325" stop-color="#ff7e00"/><stop offset="0.4415" stop-color="#ff7900"/><stop offset="0.4505" stop-color="#ff7300"/><stop offset="0.4596" stop-color="#ff6d00"/><stop offset="0.4686" stop-color="#ff6400"/><stop offset="0.4776" stop-color="#ff5a00"/><stop offset="0.4867" stop-color="#ff5000"/><stop offset="0.4957" stop-color="#ff4500"/><stop offset="0.5047" stop-color="#ff3900"/><stop offset="0.5138" stop-color="#ff2d00"/><stop offset="0.5228" stop-color="#ff2200"/><stop offset="0.5318" stop-color="#ff1500"/><stop offset="0.5409" stop-color="#ff0700"/><stop offset="0.5499" stop-color="#f80000"/><stop offset="0.5589" stop-color="#e90000"/><stop offset="0.5680" stop-color="#d50000"/><stop offset="0.5770" stop-color="#c30000"/><stop offset="0.5860" stop-color="#b70000"/><stop offset="0.5951" stop-color="#ad0000"/><stop offset="0.6041" stop-color="#a50000"/><stop offset="0.6131" stop-color="#9e0000"/><stop offset="0.6222" stop-color="#990000"/><stop offset="0.6312" stop-color="#950000"/><stop offset="0.6402" stop-color="#930000"/><stop offset="0.6493" stop-color="#930000"/><stop offset="0.6583" stop-color="#930000"/><stop offset="0.6673" stop-color="#960000"/><stop offset="0.6764" stop-color="#9c0000"/><stop offset="0.6854" stop-color="#a40000"/><stop offset="0.6944" stop-color="#ae0000"/><stop offset="0.7035" stop-color="#b80000"/><stop offset="0.7125" stop-color="#c60000"/><stop offset="0.7215" stop-color="#dc0000"/><stop offset="0.7306" stop-color="#f60000"/><stop offset="0.7396" stop-color="#ff1200"/><stop offset="0.7486" stop-color="#ff2e00"/><stop offset="0.7577" stop-color="#ff4d00"/><stop offset="0.7667" stop-color="#ff6d00"/><stop offset="0.7757" stop-color="#ff8b00"/><stop offset="0.7848" stop-color="#ffab00"/><stop offset="0.7938" stop-color="#ffcd00"/><stop offset="0.8029" stop-color="#fff000"/><stop offset="0.8119" stop-color="#ecff13"/><stop offset="0.8209" stop-color="#cbff34"/><stop offset="0.8300" stop-color="#a7ff58"/><stop offset="0.8390" stop-color="#84ff7b"/><stop offset="0.8480" stop-color="#62ff9d"/><stop offset="0.8571" stop-color="#40ffbf"/><stop offset="0.8661" stop-color="#1fffe0"/><stop offset="0.8751" stop-color="#00fdff"/><stop offset="0.8842" stop-color="#00ddff"/><stop offset="0.8932" stop-color="#00bdff"/><stop offset="0.9022" stop-color="#00a0ff"/><stop offset="0.9113" stop-color="#0086ff"/><stop offset="0.9203" stop-color="#0071ff"/><stop offset="0.9293" stop-color="#005dff"/><stop offset="0.9384" stop-color="#004cff"/><stop offset="0.9474" stop-color="#003aff"/><stop offset="0.9564" stop-color="#0029ff"/><stop offset="0.9655" stop-color="#0019ff"/><stop offset="0.9745" stop-color="#000bff"/><stop offset="0.9835" stop-color="#0000fd"/><stop offset="0.9926" stop-color="#0000f1"/></linearGradient><linearGradient id="r9" gradientUnits="objectBoundingBox" x1="0" y1="0" x2="1" y2="0"><stop offset="0.0079" stop-color="#0000a9"/><stop offset="0.0169" stop-color="#0000b2"/><stop offset="0.0259" stop-color="#0000bd"/><stop offset="0.0350" stop-color="#0000cb"/><stop offset="0.0440" stop-color="#0000da"/><stop offset="0.0530" stop-color="#0000ec"/><stop offset="0.0621" stop-color="#0002ff"/><stop offset="0.0711" stop-color="#0019ff"/><stop offset="0.0801" stop-color="#0035ff"/><stop offset="0.0892" stop-color="#0058ff"/><stop offset="0.0982" stop-color="#0082ff"/><stop offset="0.1072" stop-color="#00b1ff"/><stop offset="0.1163" stop-color="#00e8ff"/><stop offset="0.1253" stop-color="#2cffd3"/><stop offset="0.1343" stop-color="#76ff89"/><stop offset="0.1434" stop-color="#b2ff4d"/><stop offset="0.1524" stop-color="#f6ff09"/><stop offset="0.1614" stop-color="#ffc300"/><stop offset="0.1705" stop-color="#ff7f00"/><stop offset="0.1795" stop-color="#ff4000"/><stop offset="0.1885" stop-color="#ff0800"/><stop offset="0.1976" stop-color="#d70000"/><stop offset="0.2066" stop-color="#bc0000"/><stop offset="0.2156" stop-color="#ae0000"/><stop offset="0.2247" stop-color="#aa0000"/><stop offset="0.2337" stop-color="#ab0000"/><stop offset="0.2427" stop-color="#b40000"/><stop offset="0.2518" stop-color="#c20000"/><stop offset="0.2608" stop-color="#da0000"/><stop offset="0.2698" stop-color="#f40000"/><stop offset="0.2789" stop-color="#ff0f00"/><stop offset="0.2879" stop-color="#ff2500"/><stop offset="0.2969" stop-color="#ff3800"/><stop offset="0.3060" stop-color="#ff4a00"/><stop offset="0.3150" stop-color="#ff5c00"/><stop offset="0.3240" stop-color="#ff6c00"/><stop offset="0.3331" stop-color="#ff7a00"/><stop offset="0.3421" stop-color="#ff8500"/><stop offset="0.3511" stop-color="#ff8f00"/><stop offset="0.3602" stop-color="#ff9600"/><stop offset="0.3692" stop-color="#ff9b00"/><stop offset="0.3782" stop-color="#ff9f00"/><stop offset="0.3873" stop-color="#ffa200"/><stop offset="0.3963" stop-color="#ffa200"/><stop offset="0.4054" stop-color="#ffa000"/><stop offset="0.4144" stop-color="#ff9e00"/><stop offset="0.4234" stop-color="#ff9b00"/><stop offset="0.4325" stop-color="#ff9700"/><stop offset="0.4415" stop-color="#ff9000"/><stop offset="0.4505" stop-color="#ff8900"/><stop offset="0.4596" stop-color="#ff8000"/><stop offset="0.4686" stop-color="#ff7500"/><stop offset="0.4776" stop-color="#ff6900"/><stop offset="0.4867" stop-color="#ff5c00"/><stop offset="0.4957" stop-color="#ff4f00"/><stop offset="0.5047" stop-color="#ff4100"/><stop offset="0.5138" stop-color="#ff3400"/><stop offset="0.5228" stop-color="#ff2700"/><stop offset="0.5318" stop-color="#ff1900"/><stop offset="0.5409" stop-color="#ff0900"/><stop offset="0.5499" stop-color="#f90000"/><stop offset="0.5589" stop-color="#e90000"/><stop offset="0.5680" stop-color="#d40000"/><stop offset="0.5770" stop-color="#c00000"/><stop offset="0.5860" stop-color="#b40000"/><stop offset="0.5951" stop-color="#a90000"/><stop offset="0.6041" stop-color="#a10000"/><stop offset="0.6131" stop-color="#9b0000"/><stop offset="0.6222" stop-color="#950000"/><stop offset="0.6312" stop-color="#920000"/><stop offset="0.6402" stop-color="#920000"/><stop offset="0.6493" stop-color="#930000"/><stop offset="0.6583" stop-color="#960000"/><stop offset="0.6673" stop-color="#9b0000"/><stop offset="0.6764" stop-color="#a30000"/><stop offset="0.6854" stop-color="#af0000"/><stop offset="0.6944" stop-color="#bb0000"/><stop offset="0.7035" stop-color="#ca0000"/><stop offset="0.7125" stop-color="#e10000"/><stop offset="0.7215" stop-color="#fc0000"/><stop offset="0.7306" stop-color="#ff1a00"/><stop offset="0.7396" stop-color="#ff3500"/><stop offset="0.7486" stop-color="#ff5200"/><stop offset="0.7577" stop-color="#ff7300"/><stop offset="0.7667" stop-color="#ff9400"/><stop offset="0.7757" stop-color="#ffb500"/><stop offset="0.7848" stop-color="#ffd600"/><stop offset="0.7938" stop-color="#fff800"/><stop offset="0.8029" stop-color="#e5ff1a"/><stop offset="0.8119" stop-color="#c4ff3b"/><stop offset="0.8209" stop-color="#a3ff5c"/><stop offset="0.8300" stop-color="#81ff7e"/><stop offset="0.8390" stop-color="#60ff9f"/><stop offset="0.8480" stop-color="#40ffbf"/><stop offset="0.8571" stop-color="#20ffdf"/><stop offset="0.8661" stop-color="#02fffd"/><stop offset="0.8751" stop-color="#00e3ff"/><stop offset="0.8842" stop-color="#00c7ff"/><stop offset="0.8932" stop-color="#00aaff"/><stop offset="0.9022" stop-color="#008eff"/><stop offset="0.9113" stop-color="#0077ff"/><stop offset="0.9203" stop-color="#0064ff"/><stop offset="0.9293" stop-color="#0054ff"/><stop offset="0.9384" stop-color="#0044ff"/><stop offset="0.9474" stop-color="#0034ff"/><stop offset="0.9564" stop-color="#0025ff"/><stop offset="0.9655" stop-color="#0017ff"/><stop offset="0.9745" stop-color="#000aff"/><stop offset="0.9835" stop-color="#0000fd"/><stop offset="0.9926" stop-color="#0000f2"/></linearGradient><linearGradient id="r10" gradientUnits="objectBoundingBox" x1="0" y1="0" x2="1" y2="0"><stop offset="0.0079" stop-color="#0000a1"/><stop offset="0.0169" stop-color="#0000aa"/><stop offset="0.0259" stop-color="#0000b4"/><stop offset="0.0350" stop-color="#0000c1"/><stop offset="0.0440" stop-color="#0000d0"/><stop offset="0.0530" stop-color="#0000e2"/><stop offset="0.0621" stop-color="#0000f5"/><stop offset="0.0711" stop-color="#000dff"/><stop offset="0.0801" stop-color="#0028ff"/><stop offset="0.0892" stop-color="#004aff"/><stop offset="0.0982" stop-color="#0071ff"/><stop offset="0.1072" stop-color="#009eff"/><stop offset="0.1163" stop-color="#00d3ff"/><stop offset="0.1253" stop-color="#17ffe8"/><stop offset="0.1343" stop-color="#65ff9a"/><stop offset="0.1434" stop-color="#aeff51"/><stop offset="0.1524" stop-color="#fffe00"/><stop offset="0.1614" stop-color="#ffb200"/><stop offset="0.1705" stop-color="#ff6d00"/><stop offset="0.1795" stop-color="#ff3100"/><stop offset="0.1885" stop-color="#ff0100"/><stop offset="0.1976" stop-color="#df0000"/><stop offset="0.2066" stop-color="#d30000"/><stop offset="0.2156" stop-color="#d60000"/><stop offset="0.2247" stop-color="#de0000"/><stop offset="0.2337" stop-color="#eb0000"/><stop offset="0.2427" stop-color="#ff0200"/><stop offset="0.2518" stop-color="#ff1a00"/><stop offset="0.2608" stop-color="#ff3500"/><stop offset="0.2698" stop-color="#ff4e00"/><stop offset="0.2789" stop-color="#ff6500"/><stop offset="0.2879" stop-color="#ff7a00"/><stop offset="0.2969" stop-color="#ff8d00"/><stop offset="0.3060" stop-color="#ff9e00"/><stop offset="0.3150" stop-color="#ffaf00"/><stop offset="0.3240" stop-color="#ffbf00"/><stop offset="0.3331" stop-color="#ffcb00"/><stop offset="0.3421" stop-color="#ffd500"/><stop offset="0.3511" stop-color="#ffde00"/><stop offset="0.3602" stop-color="#ffe500"/><stop offset="0.3692" stop-color="#ffe800"/><stop offset="0.3782" stop-color="#ffeb00"/><stop offset="0.3873" stop-color="#ffed00"/><stop offset="0.3963" stop-color="#ffec00"/><stop offset="0.4054" stop-color="#ffe900"/><stop offset="0.4144" stop-color="#ffe500"/><stop offset="0.4234" stop-color="#ffe000"/><stop offset="0.4325" stop-color="#ffda00"/><stop offset="0.4415" stop-color="#ffd100"/><stop offset="0.4505" stop-color="#ffc700"/><stop offset="0.4596" stop-color="#ffbc00"/><stop offset="0.4686" stop-color="#ffae00"/><stop offset="0.4776" stop-color="#ff9f00"/><stop offset="0.4867" stop-color="#ff8f00"/><stop offset="0.4957" stop-color="#ff7f00"/><stop offset="0.5047" stop-color="#ff6e00"/><stop offset="0.5138" stop-color="#ff5c00"/><stop offset="0.5228" stop-color="#ff4a00"/><stop offset="0.5318" stop-color="#ff3700"/><stop offset="0.5409" stop-color="#ff2500"/><stop offset="0.5499" stop-color="#ff1100"/><stop offset="0.5589" stop-color="#f90000"/><stop offset="0.5680" stop-color="#e00000"/><stop offset="0.5770" stop-color="#c60000"/><stop offset="0.5860" stop-color="#b40000"/><stop offset="0.5951" stop-color="#a70000"/><stop offset="0.6041" stop-color="#9d0000"/><stop offset="0.6131" stop-color="#970000"/><stop offset="0.6222" stop-color="#960000"/><stop offset="0.6312" stop-color="#990000"/><stop offset="0.6402" stop-color="#9f0000"/><stop offset="0.6493" stop-color="#a70000"/><stop offset="0.6583" stop-color="#b20000"/><stop offset="0.6673" stop-color="#bf0000"/><stop offset="0.6764" stop-color="#d00000"/><stop offset="0.6854" stop-color="#e80000"/><stop offset="0.6944" stop-color="#ff0200"/><stop offset="0.7035" stop-color="#ff1d00"/><stop offset="0.7125" stop-color="#ff3700"/><stop offset="0.7215" stop-color="#ff5200"/><stop offset="0.7306" stop-color="#ff6e00"/><stop offset="0.7396" stop-color="#ff8a00"/><stop offset="0.7486" stop-color="#ffa700"/><stop offset="0.7577" stop-color="#ffc700"/><stop offset="0.7667" stop-color="#ffe700"/><stop offset="0.7757" stop-color="#f7ff08"/><stop offset="0.7848" stop-color="#d8ff27"/><stop offset="0.7938" stop-color="#b9ff46"/><stop offset="0.8029" stop-color="#9bff64"/><stop offset="0.8119" stop-color="#7dff82"/><stop offset="0.8209" stop-color="#5fffa0"/><stop offset="0.8300" stop-color="#42ffbd"/><stop offset="0.8390" stop-color="#25ffda"/><stop offset="0.8480" stop-color="#09fff6"/><stop offset="0.8571" stop-color="#00ecff"/><stop offset="0.8661" stop-color="#00d1ff"/><stop offset="0.8751" stop-color="#00b8ff"/><stop offset="0.8842" stop-color="#00a0ff"/><stop offset="0.8932" stop-color="#0087ff"/><stop offset="0.9022" stop-color="#0070ff"/><stop offset="0.9113" stop-color="#005cff"/><stop offset="0.9203" stop-color="#004cff"/><stop offset="0.9293" stop-color="#003eff"/><stop offset="0.9384" stop-color="#0031ff"/><stop offset="0.9474" stop-color="#0024ff"/><stop offset="0.9564" stop-color="#0017ff"/><stop offset="0.9655" stop-color="#000bff"/><stop offset="0.9745" stop-color="#0000ff"/><stop offset="0.9835" stop-color="#0000f4"/><stop offset="0.9926" stop-color="#0000ea"/></linearGradient><linearGradient id="r11" gradientUnits="objectBoundingBox" x1="0" y1="0" x2="1" y2="0"><stop offset="0.0079" stop-color="#000098"/><stop offset="0.0169" stop-color="#0000a0"/><stop offset="0.0259" stop-color="#0000a9"/><stop offset="0.0350" stop-color="#0000b5"/><stop offset="0.0440" stop-color="#0000c3"/><stop offset="0.0530" stop-color="#0000d4"/><stop offset="0.0621" stop-color="#0000e7"/><stop offset="0.0711" stop-color="#0000fd"/><stop offset="0.0801" stop-color="#0018ff"/><stop offset="0.0892" stop-color="#0037ff"/><stop offset="0.0982" stop-color="#005bff"/><stop offset="0.1072" stop-color="#0086ff"/><stop offset="0.1163" stop-color="#00b8ff"/><stop offset="0.1253" stop-color="#00f9ff"/><stop offset="0.1343" stop-color="#4affb5"/><stop offset="0.1434" stop-color="#a7ff58"/><stop offset="0.1524" stop-color="#fff200"/><stop offset="0.1614" stop-color="#ff9c00"/><stop offset="0.1705" stop-color="#ff5900"/><stop offset="0.1795" stop-color="#ff2400"/><stop offset="0.1885" stop-color="#ff0100"/><stop offset="0.1976" stop-color="#f30000"/><stop offset="0.2066" stop-color="#ff0100"/><stop offset="0.2156" stop-color="#ff2100"/><stop offset="0.2247" stop-color="#ff3500"/><stop offset="0.2337" stop-color="#ff4f00"/><stop offset="0.2427" stop-color="#ff6c00"/><stop offset="0.2518" stop-color="#ff8800"/><stop offset="0.2608" stop-color="#ffa400"/><stop offset="0.2698" stop-color="#ffbf00"/><stop offset="0.2789" stop-color="#ffd600"/><stop offset="0.2879" stop-color="#ffe900"/><stop offset="0.2969" stop-color="#fffb00"/><stop offset="0.3060" stop-color="#f3ff0c"/><stop offset="0.3150" stop-color="#e4ff1b"/><stop offset="0.3240" stop-color="#d6ff29"/><stop offset="0.3331" stop-color="#cbff34"/><stop offset="0.3421" stop-color="#c2ff3d"/><stop offset="0.3511" stop-color="#baff45"/><stop offset="0.3602" stop-color="#b5ff4a"/><stop offset="0.3692" stop-color="#b3ff4c"/><stop offset="0.3782" stop-color="#b1ff4e"/><stop offset="0.3873" stop-color="#b1ff4e"/><stop offset="0.3963" stop-color="#b3ff4c"/><stop offset="0.4054" stop-color="#b7ff48"/><stop offset="0.4144" stop-color="#bdff42"/><stop offset="0.4234" stop-color="#c3ff3c"/><stop offset="0.4325" stop-color="#ccff33"/><stop offset="0.4415" stop-color="#d7ff28"/><stop offset="0.4505" stop-color="#e3ff1c"/><stop offset="0.4596" stop-color="#f2ff0d"/><stop offset="0.4686" stop-color="#fffb00"/><stop offset="0.4776" stop-color="#ffe900"/><stop offset="0.4867" stop-color="#ffd600"/><stop offset="0.4957" stop-color="#ffc200"/><stop offset="0.5047" stop-color="#ffac00"/><stop offset="0.5138" stop-color="#ff9500"/><stop offset="0.5228" stop-color="#ff7c00"/><stop offset="0.5318" stop-color="#ff6300"/><stop offset="0.5409" stop-color="#ff4900"/><stop offset="0.5499" stop-color="#ff2e00"/><stop offset="0.5589" stop-color="#ff1100"/><stop offset="0.5680" stop-color="#f20000"/><stop offset="0.5770" stop-color="#d00000"/><stop offset="0.5860" stop-color="#b60000"/><stop offset="0.5951" stop-color="#a50000"/><stop offset="0.6041" stop-color="#990000"/><stop offset="0.6131" stop-color="#940000"/><stop offset="0.6222" stop-color="#980000"/><stop offset="0.6312" stop-color="#a50000"/><stop offset="0.6402" stop-color="#b50000"/><stop offset="0.6493" stop-color="#c70000"/><stop offset="0.6583" stop-color="#e10000"/><stop offset="0.6673" stop-color="#ff0000"/><stop offset="0.6764" stop-color="#ff1f00"/><stop offset="0.6854" stop-color="#ff3e00"/><stop offset="0.6944" stop-color="#ff5e00"/><stop offset="0.7035" stop-color="#ff7e00"/><stop offset="0.7125" stop-color="#ff9f00"/><stop offset="0.7215" stop-color="#ffbe00"/><stop offset="0.7306" stop-color="#ffdc00"/><stop offset="0.7396" stop-color="#fff900"/><stop offset="0.7486" stop-color="#e9ff16"/><stop offset="0.7577" stop-color="#cbff34"/><stop offset="0.7667" stop-color="#aeff51"/><stop offset="0.7757" stop-color="#91ff6e"/><stop offset="0.7848" stop-color="#75ff8a"/><stop offset="0.7938" stop-color="#5bffa4"/><stop offset="0.8029" stop-color="#40ffbf"/><stop offset="0.8119" stop-color="#27ffd8"/><stop offset="0.8209" stop-color="#0efff1"/><stop offset="0.8300" stop-color="#00f4ff"/><stop offset="0.8390" stop-color="#00dcff"/><stop offset="0.8480" stop-color="#00c5ff"/><stop offset="0.8571" stop-color="#00aeff"/><stop offset="0.8661" stop-color="#0099ff"/><stop offset="0.8751" stop-color="#0084ff"/><stop offset="0.8842" stop-color="#0071ff"/><stop offset="0.8932" stop-color="#005dff"/><stop offset="0.9022" stop-color="#004bff"/><stop offset="0.9113" stop-color="#003bff"/><stop offset="0.9203" stop-color="#002eff"/><stop offset="0.9293" stop-color="#0023ff"/><stop offset="0.9384" stop-color="#0018ff"/><stop offset="0.9474" stop-color="#000dff"/><stop offset="0.9564" stop-color="#0003ff"/><stop offset="0.9655" stop-color="#0000f8"/><stop offset="0.9745" stop-color="#0000ef"/><stop offset="0.9835" stop-color="#0000e7"/><stop offset="0.9926" stop-color="#0000df"/></linearGradient><linearGradient id="r12" gradientUnits="objectBoundingBox" x1="0" y1="0" x2="1" y2="0"><stop offset="0.0079" stop-color="#00008f"/><stop offset="0.0169" stop-color="#000096"/><stop offset="0.0259" stop-color="#00009e"/><stop offset="0.0350" stop-color="#0000a9"/><stop offset="0.0440" stop-color="#0000b6"/><stop offset="0.0530" stop-color="#0000c7"/><stop offset="0.0621" stop-color="#0000d9"/><stop offset="0.0711" stop-color="#0000ee"/><stop offset="0.0801" stop-color="#0008ff"/><stop offset="0.0892" stop-color="#0024ff"/><stop offset="0.0982" stop-color="#0046ff"/><stop offset="0.1072" stop-color="#006dff"/><stop offset="0.1163" stop-color="#009eff"/><stop offset="0.1253" stop-color="#00dcff"/><stop offset="0.1343" stop-color="#30ffcf"/><stop offset="0.1434" stop-color="#a0ff5f"/><stop offset="0.1524" stop-color="#ffe600"/><stop offset="0.1614" stop-color="#ff8700"/><stop offset="0.1705" stop-color="#ff4500"/><stop offset="0.1795" stop-color="#ff1600"/><stop offset="0.1885" stop-color="#ff0100"/><stop offset="0.1976" stop-color="#ff0700"/><stop offset="0.2066" stop-color="#ff2c00"/><stop offset="0.2156" stop-color="#ff6200"/><stop offset="0.2247" stop-color="#ff8500"/><stop offset="0.2337" stop-color="#ffac00"/><stop offset="0.2427" stop-color="#ffd400"/><stop offset="0.2518" stop-color="#fff500"/><stop offset="0.2608" stop-color="#eaff15"/><stop offset="0.2698" stop-color="#cdff32"/><stop offset="0.2789" stop-color="#b8ff47"/><stop offset="0.2879" stop-color="#a6ff59"/><stop offset="0.2969" stop-color="#95ff6a"/><stop offset="0.3060" stop-color="#86ff79"/><stop offset="0.3150" stop-color="#78ff87"/><stop offset="0.3240" stop-color="#6cff93"/><stop offset="0.3331" stop-color="#62ff9d"/><stop offset="0.3421" stop-color="#5bffa4"/><stop offset="0.3511" stop-color="#55ffaa"/><stop offset="0.3602" stop-color="#51ffae"/><stop offset="0.3692" stop-color="#50ffaf"/><stop offset="0.3782" stop-color="#4fffb0"/><stop offset="0.3873" stop-color="#50ffaf"/><stop offset="0.3963" stop-color="#53ffac"/><stop offset="0.4054" stop-color="#59ffa6"/><stop offset="0.4144" stop-color="#60ff9f"/><stop offset="0.4234" stop-color="#69ff96"/><stop offset="0.4325" stop-color="#73ff8c"/><stop offset="0.4415" stop-color="#80ff7f"/><stop offset="0.4505" stop-color="#90ff6f"/><stop offset="0.4596" stop-color="#a1ff5e"/><stop offset="0.4686" stop-color="#b5ff4a"/><stop offset="0.4776" stop-color="#caff35"/><stop offset="0.4867" stop-color="#e1ff1e"/><stop offset="0.4957" stop-color="#faff05"/><stop offset="0.5047" stop-color="#ffea00"/><stop offset="0.5138" stop-color="#ffce00"/><stop offset="0.5228" stop-color="#ffaf00"/><stop offset="0.5318" stop-color="#ff8f00"/><stop offset="0.5409" stop-color="#ff6e00"/><stop offset="0.5499" stop-color="#ff4b00"/><stop offset="0.5589" stop-color="#ff2600"/><stop offset="0.5680" stop-color="#ff0500"/><stop offset="0.5770" stop-color="#dc0000"/><stop offset="0.5860" stop-color="#b90000"/><stop offset="0.5951" stop-color="#a30000"/><stop offset="0.6041" stop-color="#950000"/><stop offset="0.6131" stop-color="#900000"/><stop offset="0.6222" stop-color="#9b0000"/><stop offset="0.6312" stop-color="#b10000"/><stop offset="0.6402" stop-color="#cb0000"/><stop offset="0.6493" stop-color="#ed0000"/><stop offset="0.6583" stop-color="#ff1700"/><stop offset="0.6673" stop-color="#ff3f00"/><stop offset="0.6764" stop-color="#ff6500"/><stop offset="0.6854" stop-color="#ff8e00"/><stop offset="0.6944" stop-color="#ffb700"/><stop offset="0.7035" stop-color="#ffe000"/><stop offset="0.7125" stop-color="#f6ff09"/><stop offset="0.7215" stop-color="#d3ff2c"/><stop offset="0.7306" stop-color="#b3ff4c"/><stop offset="0.7396" stop-color="#97ff68"/><stop offset="0.7486" stop-color="#7bff84"/><stop offset="0.7577" stop-color="#60ff9f"/><stop offset="0.7667" stop-color="#45ffba"/><stop offset="0.7757" stop-color="#2bffd4"/><stop offset="0.7848" stop-color="#13ffec"/><stop offset="0.7938" stop-color="#00fbff"/><stop offset="0.8029" stop-color="#00e5ff"/><stop offset="0.8119" stop-color="#00d0ff"/><stop offset="0.8209" stop-color="#00bcff"/><stop offset="0.8300" stop-color="#00a8ff"/><stop offset="0.8390" stop-color="#0095ff"/><stop offset="0.8480" stop-color="#0082ff"/><stop offset="0.8571" stop-color="#0071ff"/><stop offset="0.8661" stop-color="#0060ff"/><stop offset="0.8751" stop-color="#0051ff"/><stop offset="0.8842" stop-color="#0042ff"/><stop offset="0.8932" stop-color="#0033ff"/><stop offset="0.9022" stop-color="#0026ff"/><stop offset="0.9113" stop-color="#001aff"/><stop offset="0.9203" stop-color="#0010ff"/><stop offset="0.9293" stop-color="#0007ff"/><stop offset="0.9384" stop-color="#0000fe"/><stop offset="0.9474" stop-color="#0000f6"/><stop offset="0.9564" stop-color="#0000ee"/><stop offset="0.9655" stop-color="#0000e7"/><stop offset="0.9745" stop-color="#0000e0"/><stop offset="0.9835" stop-color="#0000d9"/><stop offset="0.9926" stop-color="#0000d4"/></linearGradient><linearGradient id="r13" gradientUnits="objectBoundingBox" x1="0" y1="0" x2="1" y2="0"><stop offset="0.0079" stop-color="#000087"/><stop offset="0.0169" stop-color="#00008c"/><stop offset="0.0259" stop-color="#000093"/><stop offset="0.0350" stop-color="#00009d"/><stop offset="0.0440" stop-color="#0000aa"/><stop offset="0.0530" stop-color="#0000ba"/><stop offset="0.0621" stop-color="#0000cb"/><stop offset="0.0711" stop-color="#0000df"/><stop offset="0.0801" stop-color="#0000f6"/><stop offset="0.0892" stop-color="#0012ff"/><stop offset="0.0982" stop-color="#0030ff"/><stop offset="0.1072" stop-color="#0055ff"/><stop offset="0.1163" stop-color="#0083ff"/><stop offset="0.1253" stop-color="#00bfff"/><stop offset="0.1343" stop-color="#15ffea"/><stop offset="0.1434" stop-color="#99ff66"/><stop offset="0.1524" stop-color="#ffda00"/><stop offset="0.1614" stop-color="#ff7100"/><stop offset="0.1705" stop-color="#ff3100"/><stop offset="0.1795" stop-color="#ff0800"/><stop offset="0.1885" stop-color="#ff0200"/><stop offset="0.1976" stop-color="#ff1a00"/><stop offset="0.2066" stop-color="#ff5300"/><stop offset="0.2156" stop-color="#ffa400"/><stop offset="0.2247" stop-color="#ffd500"/><stop offset="0.2337" stop-color="#f4ff0b"/><stop offset="0.2427" stop-color="#c2ff3d"/><stop offset="0.2518" stop-color="#9cff63"/><stop offset="0.2608" stop-color="#7aff85"/><stop offset="0.2698" stop-color="#5cffa3"/><stop offset="0.2789" stop-color="#47ffb8"/><stop offset="0.2879" stop-color="#36ffc9"/><stop offset="0.2969" stop-color="#27ffd8"/><stop offset="0.3060" stop-color="#19ffe6"/><stop offset="0.3150" stop-color="#0dfff2"/><stop offset="0.3240" stop-color="#02fffd"/><stop offset="0.3331" stop-color="#00f9ff"/><stop offset="0.3421" stop-color="#00f4ff"/><stop offset="0.3511" stop-color="#00efff"/><stop offset="0.3602" stop-color="#00ecff"/><stop offset="0.3692" stop-color="#00ecff"/><stop offset="0.3782" stop-color="#00ecff"/><stop offset="0.3873" stop-color="#00eeff"/><stop offset="0.3963" stop-color="#00f2ff"/><stop offset="0.4054" stop-color="#00faff"/><stop offset="0.4144" stop-color="#04fffb"/><stop offset="0.4234" stop-color="#0efff1"/><stop offset="0.4325" stop-color="#1bffe4"/><stop offset="0.4415" stop-color="#2affd5"/><stop offset="0.4505" stop-color="#3dffc2"/><stop offset="0.4596" stop-color="#51ffae"/><stop offset="0.4686" stop-color="#67ff98"/><stop offset="0.4776" stop-color="#80ff7f"/><stop offset="0.4867" stop-color="#9aff65"/><stop offset="0.4957" stop-color="#b7ff48"/><stop offset="0.5047" stop-color="#d5ff2a"/><stop offset="0.5138" stop-color="#f8ff07"/><stop offset="0.5228" stop-color="#ffe100"/><stop offset="0.5318" stop-color="#ffba00"/><stop offset="0.5409" stop-color="#ff9200"/><stop offset="0.5499" stop-color="#ff6700"/><stop offset="0.5589" stop-color="#ff3b00"/><stop offset="0.5680" stop-color="#ff1600"/><stop offset="0.5770" stop-color="#e70000"/><stop offset="0.5860" stop-color="#bb0000"/><stop offset="0.5951" stop-color="#a10000"/><stop offset="0.6041" stop-color="#910000"/><stop offset="0.6131" stop-color="#8d0000"/><stop offset="0.6222" stop-color="#9d0000"/><stop offset="0.6312" stop-color="#be0000"/><stop offset="0.6402" stop-color="#e50000"/><stop offset="0.6493" stop-color="#ff1400"/><stop offset="0.6583" stop-color="#ff4600"/><stop offset="0.6673" stop-color="#ff7a00"/><stop offset="0.6764" stop-color="#ffab00"/><stop offset="0.6854" stop-color="#ffdd00"/><stop offset="0.6944" stop-color="#eeff11"/><stop offset="0.7035" stop-color="#bcff43"/><stop offset="0.7125" stop-color="#8dff72"/><stop offset="0.7215" stop-color="#67ff98"/><stop offset="0.7306" stop-color="#45ffba"/><stop offset="0.7396" stop-color="#28ffd7"/><stop offset="0.7486" stop-color="#0dfff2"/><stop offset="0.7577" stop-color="#00f3ff"/><stop offset="0.7667" stop-color="#00dbff"/><stop offset="0.7757" stop-color="#00c4ff"/><stop offset="0.7848" stop-color="#00afff"/><stop offset="0.7938" stop-color="#009cff"/><stop offset="0.8029" stop-color="#008aff"/><stop offset="0.8119" stop-color="#007aff"/><stop offset="0.8209" stop-color="#006aff"/><stop offset="0.8300" stop-color="#005bff"/><stop offset="0.8390" stop-color="#004dff"/><stop offset="0.8480" stop-color="#0040ff"/><stop offset="0.8571" stop-color="#0033ff"/><stop offset="0.8661" stop-color="#0028ff"/><stop offset="0.8751" stop-color="#001dff"/><stop offset="0.8842" stop-color="#0013ff"/><stop offset="0.8932" stop-color="#000aff"/><stop offset="0.9022" stop-color="#0001ff"/><stop offset="0.9113" stop-color="#0000f8"/><stop offset="0.9203" stop-color="#0000f1"/><stop offset="0.9293" stop-color="#0000eb"/><stop offset="0.9384" stop-color="#0000e5"/><stop offset="0.9474" stop-color="#0000e0"/><stop offset="0.9564" stop-color="#0000da"/><stop offset="0.9655" stop-color="#0000d5"/><stop offset="0.9745" stop-color="#0000d0"/><stop offset="0.9835" stop-color="#0000cc"/><stop offset="0.9926" stop-color="#0000c8"/></linearGradient><linearGradient id="r14" gradientUnits="objectBoundingBox" x1="0" y1="0" x2="1" y2="0"><stop offset="0.0079" stop-color="#000080"/><stop offset="0.0169" stop-color="#000082"/><stop offset="0.0259" stop-color="#000088"/><stop offset="0.0350" stop-color="#000091"/><stop offset="0.0440" stop-color="#00009d"/><stop offset="0.0530" stop-color="#0000ac"/><stop offset="0.0621" stop-color="#0000bd"/><stop offset="0.0711" stop-color="#0000d0"/><stop offset="0.0801" stop-color="#0000e6"/><stop offset="0.0892" stop-color="#0000fe"/><stop offset="0.0982" stop-color="#001aff"/><stop offset="0.1072" stop-color="#003cff"/><stop offset="0.1163" stop-color="#0068ff"/><stop offset="0.1253" stop-color="#00a2ff"/><stop offset="0.1343" stop-color="#00faff"/><stop offset="0.1434" stop-color="#92ff6d"/><stop offset="0.1524" stop-color="#ffce00"/><stop offset="0.1614" stop-color="#ff5c00"/><stop offset="0.1705" stop-color="#ff1e00"/><stop offset="0.1795" stop-color="#fa0000"/><stop offset="0.1885" stop-color="#ff0200"/><stop offset="0.1976" stop-color="#ff2b00"/><stop offset="0.2066" stop-color="#ff7b00"/><stop offset="0.2156" stop-color="#ffe600"/><stop offset="0.2247" stop-color="#d9ff26"/><stop offset="0.2337" stop-color="#97ff68"/><stop offset="0.2427" stop-color="#5bffa4"/><stop offset="0.2518" stop-color="#2fffd0"/><stop offset="0.2608" stop-color="#0bfff4"/><stop offset="0.2698" stop-color="#00eaff"/><stop offset="0.2789" stop-color="#00d5ff"/><stop offset="0.2879" stop-color="#00c6ff"/><stop offset="0.2969" stop-color="#00b8ff"/><stop offset="0.3060" stop-color="#00abff"/><stop offset="0.3150" stop-color="#00a0ff"/><stop offset="0.3240" stop-color="#0097ff"/><stop offset="0.3331" stop-color="#0091ff"/><stop offset="0.3421" stop-color="#008dff"/><stop offset="0.3511" stop-color="#008aff"/><stop offset="0.3602" stop-color="#0088ff"/><stop offset="0.3692" stop-color="#0089ff"/><stop offset="0.3782" stop-color="#008bff"/><stop offset="0.3873" stop-color="#008eff"/><stop offset="0.3963" stop-color="#0093ff"/><stop offset="0.4054" stop-color="#009bff"/><stop offset="0.4144" stop-color="#00a6ff"/><stop offset="0.4234" stop-color="#00b2ff"/><stop offset="0.4325" stop-color="#00c2ff"/><stop offset="0.4415" stop-color="#00d3ff"/><stop offset="0.4505" stop-color="#00e8ff"/><stop offset="0.4596" stop-color="#00ffff"/><stop offset="0.4686" stop-color="#1affe5"/><stop offset="0.4776" stop-color="#36ffc9"/><stop offset="0.4867" stop-color="#54ffab"/><stop offset="0.4957" stop-color="#74ff8b"/><stop offset="0.5047" stop-color="#97ff68"/><stop offset="0.5138" stop-color="#bfff40"/><stop offset="0.5228" stop-color="#ebff14"/><stop offset="0.5318" stop-color="#ffe600"/><stop offset="0.5409" stop-color="#ffb700"/><stop offset="0.5499" stop-color="#ff8400"/><stop offset="0.5589" stop-color="#ff4f00"/><stop offset="0.5680" stop-color="#ff2600"/><stop offset="0.5770" stop-color="#f10000"/><stop offset="0.5860" stop-color="#be0000"/><stop offset="0.5951" stop-color="#9e0000"/><stop offset="0.6041" stop-color="#8c0000"/><stop offset="0.6131" stop-color="#890000"/><stop offset="0.6222" stop-color="#a00000"/><stop offset="0.6312" stop-color="#cc0000"/><stop offset="0.6402" stop-color="#ff0000"/><stop offset="0.6493" stop-color="#ff3700"/><stop offset="0.6583" stop-color="#ff7500"/><stop offset="0.6673" stop-color="#ffb500"/><stop offset="0.6764" stop-color="#fff200"/><stop offset="0.6854" stop-color="#d1ff2e"/><stop offset="0.6944" stop-color="#94ff6b"/><stop offset="0.7035" stop-color="#5affa5"/><stop offset="0.7125" stop-color="#25ffda"/><stop offset="0.7215" stop-color="#00f9ff"/><stop offset="0.7306" stop-color="#00d6ff"/><stop offset="0.7396" stop-color="#00b8ff"/><stop offset="0.7486" stop-color="#009fff"/><stop offset="0.7577" stop-color="#0087ff"/><stop offset="0.7667" stop-color="#0072ff"/><stop offset="0.7757" stop-color="#005fff"/><stop offset="0.7848" stop-color="#004dff"/><stop offset="0.7938" stop-color="#003dff"/><stop offset="0.8029" stop-color="#0030ff"/><stop offset="0.8119" stop-color="#0024ff"/><stop offset="0.8209" stop-color="#0019ff"/><stop offset="0.8300" stop-color="#000fff"/><stop offset="0.8390" stop-color="#0006ff"/><stop offset="0.8480" stop-color="#0000fc"/><stop offset="0.8571" stop-color="#0000f5"/><stop offset="0.8661" stop-color="#0000ee"/><stop offset="0.8751" stop-color="#0000e8"/><stop offset="0.8842" stop-color="#0000e3"/><stop offset="0.8932" stop-color="#0000df"/><stop offset="0.9022" stop-color="#0000db"/><stop offset="0.9113" stop-color="#0000d7"/><stop offset="0.9203" stop-color="#0000d3"/><stop offset="0.9293" stop-color="#0000d0"/><stop offset="0.9384" stop-color="#0000cc"/><stop offset="0.9474" stop-color="#0000c9"/><stop offset="0.9564" stop-color="#0000c6"/><stop offset="0.9655" stop-color="#0000c4"/><stop offset="0.9745" stop-color="#0000c1"/><stop offset="0.9835" stop-color="#0000be"/><stop offset="0.9926" stop-color="#0000bd"/></linearGradient><linearGradient id="cb" x1="0" y1="1" x2="0" y2="0"><stop offset="0.0000" stop-color="#000087"/><stop offset="0.0156" stop-color="#000087"/><stop offset="0.0156" stop-color="#000097"/><stop offset="0.0312" stop-color="#000097"/><stop offset="0.0312" stop-color="#0000a7"/><stop offset="0.0469" stop-color="#0000a7"/><stop offset="0.0469" stop-color="#0000b7"/><stop offset="0.0625" stop-color="#0000b7"/><stop offset="0.0625" stop-color="#0000c7"/><stop offset="0.0781" stop-color="#0000c7"/><stop offset="0.0781" stop-color="#0000d7"/><stop offset="0.0938" stop-color="#0000d7"/><stop offset="0.0938" stop-color="#0000e7"/><stop offset="0.1094" stop-color="#0000e7"/><stop offset="0.1094" stop-color="#0000f7"/><stop offset="0.1250" stop-color="#0000f7"/><stop offset="0.1250" stop-color="#0008ff"/><stop offset="0.1406" stop-color="#0008ff"/><stop offset="0.1406" stop-color="#0018ff"/><stop offset="0.1562" stop-color="#0018ff"/><stop offset="0.1562" stop-color="#0028ff"/><stop offset="0.1719" stop-color="#0028ff"/><stop offset="0.1719" stop-color="#0038ff"/><stop offset="0.1875" stop-color="#0038ff"/><stop offset="0.1875" stop-color="#0048ff"/><stop offset="0.2031" stop-color="#0048ff"/><stop offset="0.2031" stop-color="#0058ff"/><stop offset="0.2188" stop-color="#0058ff"/><stop offset="0.2188" stop-color="#0068ff"/><stop offset="0.2344" stop-color="#0068ff"/><stop offset="0.2344" stop-color="#0078ff"/><stop offset="0.2500" stop-color="#0078ff"/><stop offset="0.2500" stop-color="#0087ff"/><stop offset="0.2656" stop-color="#0087ff"/><stop offset="0.2656" stop-color="#0097ff"/><stop offset="0.2812" stop-color="#0097ff"/><stop offset="0.2812" stop-color="#00a7ff"/><stop offset="0.2969" stop-color="#00a7ff"/><stop offset="0.2969" stop-color="#00b7ff"/><stop offset="0.3125" stop-color="#00b7ff"/><stop offset="0.3125" stop-color="#00c7ff"/><stop offset="0.3281" stop-color="#00c7ff"/><stop offset="0.3281" stop-color="#00d7ff"/><stop offset="0.3438" stop-color="#00d7ff"/><stop offset="0.3438" stop-color="#00e7ff"/><stop offset="0.3594" stop-color="#00e7ff"/><stop offset="0.3594" stop-color="#00f7ff"/><stop offset="0.3750" stop-color="#00f7ff"/><stop offset="0.3750" stop-color="#08fff7"/><stop offset="0.3906" stop-color="#08fff7"/><stop offset="0.3906" stop-color="#18ffe7"/><stop offset="0.4062" stop-color="#18ffe7"/><stop offset="0.4062" stop-color="#28ffd7"/><stop offset="0.4219" stop-color="#28ffd7"/><stop offset="0.4219" stop-color="#38ffc7"/><stop offset="0.4375" stop-color="#38ffc7"/><stop offset="0.4375" stop-color="#48ffb7"/><stop offset="0.4531" stop-color="#48ffb7"/><stop offset="0.4531" stop-color="#58ffa7"/><stop offset="0.4688" stop-color="#58ffa7"/><stop offset="0.4688" stop-color="#68ff97"/><stop offset="0.4844" stop-color="#68ff97"/><stop offset="0.4844" stop-color="#78ff87"/><stop offset="0.5000" stop-color="#78ff87"/><stop offset="0.5000" stop-color="#87ff78"/><stop offset="0.5156" stop-color="#87ff78"/><stop offset="0.5156" stop-color="#97ff68"/><stop offset="0.5312" stop-color="#97ff68"/><stop offset="0.5312" stop-color="#a7ff58"/><stop offset="0.5469" stop-color="#a7ff58"/><stop offset="0.5469" stop-color="#b7ff48"/><stop offset="0.5625" stop-color="#b7ff48"/><stop offset="0.5625" stop-color="#c7ff38"/><stop offset="0.5781" stop-color="#c7ff38"/><stop offset="0.5781" stop-color="#d7ff28"/><stop offset="0.5938" stop-color="#d7ff28"/><stop offset="0.5938" stop-color="#e7ff18"/><stop offset="0.6094" stop-color="#e7ff18"/><stop offset="0.6094" stop-color="#f7ff08"/><stop offset="0.6250" stop-color="#f7ff08"/><stop offset="0.6250" stop-color="#fff700"/><stop offset="0.6406" stop-color="#fff700"/><stop offset="0.6406" stop-color="#ffe700"/><stop offset="0.6562" stop-color="#ffe700"/><stop offset="0.6562" stop-color="#ffd700"/><stop offset="0.6719" stop-color="#ffd700"/><stop offset="0.6719" stop-color="#ffc700"/><stop offset="0.6875" stop-color="#ffc700"/><stop offset="0.6875" stop-color="#ffb700"/><stop offset="0.7031" stop-color="#ffb700"/><stop offset="0.7031" stop-color="#ffa700"/><stop offset="0.7188" stop-color="#ffa700"/><stop offset="0.7188" stop-color="#ff9700"/><stop offset="0.7344" stop-color="#ff9700"/><stop offset="0.7344" stop-color="#ff8700"/><stop offset="0.7500" stop-color="#ff8700"/><stop offset="0.7500" stop-color="#ff7800"/><stop offset="0.7656" stop-color="#ff7800"/><stop offset="0.7656" stop-color="#ff6800"/><stop offset="0.7812" stop-color="#ff6800"/><stop offset="0.7812" stop-color="#ff5800"/><stop offset="0.7969" stop-color="#ff5800"/><stop offset="0.7969" stop-color="#ff4800"/><stop offset="0.8125" stop-color="#ff4800"/><stop offset="0.8125" stop-color="#ff3800"/><stop offset="0.8281" stop-color="#ff3800"/><stop offset="0.8281" stop-color="#ff2800"/><stop offset="0.8438" stop-color="#ff2800"/><stop offset="0.8438" stop-color="#ff1800"/><stop offset="0.8594" stop-color="#ff1800"/><stop offset="0.8594" stop-color="#ff0800"/><stop offset="0.8750" stop-color="#ff0800"/><stop offset="0.8750" stop-color="#f70000"/><stop offset="0.8906" stop-color="#f70000"/><stop offset="0.8906" stop-color="#e70000"/><stop offset="0.9062" stop-color="#e70000"/><stop offset="0.9062" stop-color="#d70000"/><stop offset="0.9219" stop-color="#d70000"/><stop offset="0.9219" stop-color="#c70000"/><stop offset="0.9375" stop-color="#c70000"/><stop offset="0.9375" stop-color="#b70000"/><stop offset="0.9531" stop-color="#b70000"/><stop offset="0.9531" stop-color="#a70000"/><stop offset="0.9688" stop-color="#a70000"/><stop offset="0.9688" stop-color="#970000"/><stop offset="0.9844" stop-color="#970000"/><stop offset="0.9844" stop-color="#870000"/><stop offset="1.0000" stop-color="#870000"/></linearGradient><clipPath id="clipL"><rect x="46.7" y="8.9" width="292.90000000000003" height="259.9"/></clipPath></defs>
<rect width="710" height="391" fill="#fff"/>
<rect x="46.7" y="12.9" width="291.90000000000003" height="255.4" fill="none" stroke="#777" stroke-width="1.3"/>
<path d="M46.70,268.3 v-3.8 M46.70,12.9 v3.8 M95.35,268.3 v-3.8 M95.35,12.9 v3.8 M144.00,268.3 v-3.8 M144.00,12.9 v3.8 M192.65,268.3 v-3.8 M192.65,12.9 v3.8 M241.30,268.3 v-3.8 M241.30,12.9 v3.8 M289.95,268.3 v-3.8 M289.95,12.9 v3.8 M338.60,268.3 v-3.8 M338.60,12.9 v3.8 M46.7,268.30 h3.3 M338.6,268.30 h-3.3 M46.7,217.22 h3.3 M338.6,217.22 h-3.3 M46.7,166.14 h3.3 M338.6,166.14 h-3.3 M46.7,115.06 h3.3 M338.6,115.06 h-3.3 M46.7,63.98 h3.3 M338.6,63.98 h-3.3 M46.7,12.90 h3.3 M338.6,12.90 h-3.3" stroke="#777" stroke-width="1.2" fill="none"/>
<g clip-path="url(#clipL)">
<path d="M70.80,247.30 L71.30,246.68 L71.80,246.05 L72.30,245.41 L72.80,244.76 L73.30,244.10 L73.80,243.43 L74.30,242.75 L74.80,242.06 L75.30,241.37 L75.80,240.66 L76.30,239.95 L76.80,239.23 L77.30,238.49 L77.80,237.76 L78.30,237.02 L78.80,236.27 L79.30,235.52 L79.80,234.77 L80.30,234.00 L80.80,233.22 L81.30,232.42 L81.80,231.61 L82.30,230.77 L82.80,229.92 L83.30,229.04 L83.80,228.13 L84.30,227.20 L84.80,226.24 L85.30,225.25 L85.80,224.23 L86.30,223.18 L86.80,222.09 L87.30,220.97 L87.80,219.81 L88.30,218.61 L88.80,217.36 L89.30,216.07 L89.80,214.73 L90.30,213.33 L90.80,211.88 L91.30,210.38 L91.80,208.81 L92.30,207.18 L92.80,205.48 L93.30,203.72 L93.80,201.90 L94.30,200.00 L94.80,198.04 L95.30,196.00 L95.80,193.82 L96.30,191.45 L96.80,188.92 L97.30,186.26 L97.80,183.49 L98.30,180.66 L98.80,177.80 L99.30,174.92 L99.80,172.07 L100.30,169.28 L100.80,166.57 L101.30,163.97 L101.80,161.42 L102.30,158.89 L102.80,156.38 L103.30,153.88 L103.80,151.40 L104.30,148.93 L104.80,146.46 L105.30,143.99 L105.80,141.52 L106.30,139.05 L106.80,136.59 L107.30,134.13 L107.80,131.68 L108.30,129.24 L108.80,126.80 L109.30,124.36 L109.80,121.94 L110.30,119.52 L110.80,117.10 L111.30,114.70 L111.80,112.30 L112.30,109.91 L112.80,107.52 L113.30,105.14 L113.80,102.76 L114.30,100.38 L114.80,98.00 L115.30,95.62 L115.80,93.24 L116.30,90.86 L116.80,88.48 L117.30,86.11 L117.80,83.75 L118.30,81.39 L118.80,79.04 L119.30,76.70 L119.80,74.36 L120.30,72.02 L120.80,69.68 L121.30,67.35 L121.80,65.03 L122.30,62.73 L122.80,60.46 L123.30,58.21 L123.80,56.00 L124.30,53.81 L124.80,51.63 L125.30,49.47 L125.80,47.33 L126.30,45.23 L126.80,43.16 L127.30,41.13 L127.80,39.16 L128.30,37.24 L128.80,35.33 L129.30,33.49 L129.80,31.76 L130.30,30.20 L130.80,28.80 L131.30,27.51 L131.80,26.28 L132.30,25.08 L132.80,23.89 L133.30,22.64 L133.80,21.33 L134.30,20.02 L134.80,18.79 L135.30,17.73 L135.80,16.88 L136.30,16.14 L136.80,15.46 L137.30,14.89 L137.80,14.44 L138.30,14.11 L138.80,13.80 L139.30,13.55 L139.80,13.37 L140.30,13.30 L140.80,13.32 L141.30,13.37 L141.80,13.44 L142.30,13.54 L142.80,13.65 L143.30,13.79 L143.80,14.02 L144.30,14.31 L144.80,14.65 L145.30,15.00 L145.80,15.37 L146.30,15.78 L146.80,16.22 L147.30,16.69 L147.80,17.19 L148.30,17.71 L148.80,18.24 L149.30,18.78 L149.80,19.32 L150.30,19.87 L150.80,20.41 L151.30,20.95 L151.80,21.52 L152.30,22.09 L152.80,22.68 L153.30,23.27 L153.80,23.87 L154.30,24.48 L154.80,25.09 L155.30,25.70 L155.80,26.32 L156.30,26.94 L156.80,27.58 L157.30,28.22 L157.80,28.87 L158.30,29.52 L158.80,30.17 L159.30,30.83 L159.80,31.48 L160.30,32.13 L160.80,32.78 L161.30,33.42 L161.80,34.06 L162.30,34.68 L162.80,35.30 L163.30,35.92 L163.80,36.54 L164.30,37.17 L164.80,37.81 L165.30,38.44 L165.80,39.06 L166.30,39.67 L166.80,40.27 L167.30,40.85 L167.80,41.40 L168.30,41.93 L168.80,42.43 L169.30,42.89 L169.80,43.34 L170.30,43.78 L170.80,44.21 L171.30,44.63 L171.80,45.04 L172.30,45.43 L172.80,45.80 L173.30,46.16 L173.80,46.50 L174.30,46.81 L174.80,47.10 L175.30,47.36 L175.80,47.59 L176.30,47.82 L176.80,48.03 L177.30,48.24 L177.80,48.45 L178.30,48.64 L178.80,48.83 L179.30,49.00 L179.80,49.17 L180.30,49.33 L180.80,49.47 L181.30,49.61 L181.80,49.73 L182.30,49.84 L182.80,49.93 L183.30,50.02 L183.80,50.09 L184.30,50.17 L184.80,50.24 L185.30,50.32 L185.80,50.39 L186.30,50.45 L186.80,50.52 L187.30,50.58 L187.80,50.64 L188.30,50.69 L188.80,50.74 L189.30,50.78 L189.80,50.82 L190.30,50.85 L190.80,50.87 L191.30,50.89 L191.80,50.90 L192.30,50.90 L192.80,50.89 L193.30,50.88 L193.80,50.86 L194.30,50.83 L194.80,50.79 L195.30,50.75 L195.80,50.70 L196.30,50.65 L196.80,50.59 L197.30,50.53 L197.80,50.47 L198.30,50.40 L198.80,50.33 L199.30,50.26 L199.80,50.19 L200.30,50.12 L200.80,50.04 L201.30,49.97 L201.80,49.89 L202.30,49.80 L202.80,49.71 L203.30,49.61 L203.80,49.50 L204.30,49.38 L204.80,49.26 L205.30,49.13 L205.80,49.00 L206.30,48.86 L206.80,48.72 L207.30,48.57 L207.80,48.42 L208.30,48.26 L208.80,48.10 L209.30,47.93 L209.80,47.75 L210.30,47.56 L210.80,47.36 L211.30,47.15 L211.80,46.93 L212.30,46.70 L212.80,46.46 L213.30,46.22 L213.80,45.97 L214.30,45.71 L214.80,45.44 L215.30,45.17 L215.80,44.89 L216.30,44.61 L216.80,44.33 L217.30,44.03 L217.80,43.72 L218.30,43.40 L218.80,43.07 L219.30,42.73 L219.80,42.37 L220.30,42.01 L220.80,41.64 L221.30,41.26 L221.80,40.88 L222.30,40.48 L222.80,40.08 L223.30,39.67 L223.80,39.25 L224.30,38.83 L224.80,38.39 L225.30,37.93 L225.80,37.45 L226.30,36.96 L226.80,36.46 L227.30,35.95 L227.80,35.43 L228.30,34.90 L228.80,34.37 L229.30,33.84 L229.80,33.32 L230.30,32.79 L230.80,32.25 L231.30,31.70 L231.80,31.15 L232.30,30.59 L232.80,30.02 L233.30,29.46 L233.80,28.91 L234.30,28.36 L234.80,27.82 L235.30,27.30 L235.80,26.78 L236.30,26.25 L236.80,25.73 L237.30,25.22 L237.80,24.71 L238.30,24.21 L238.80,23.73 L239.30,23.26 L239.80,22.81 L240.30,22.38 L240.80,21.98 L241.30,21.59 L241.80,21.21 L242.30,20.84 L242.80,20.49 L243.30,20.15 L243.80,19.81 L244.30,19.48 L244.80,19.15 L245.30,18.83 L245.80,18.51 L246.30,18.18 L246.80,17.86 L247.30,17.54 L247.80,17.23 L248.30,16.92 L248.80,16.63 L249.30,16.35 L249.80,16.08 L250.30,15.84 L250.80,15.61 L251.30,15.39 L251.80,15.17 L252.30,14.96 L252.80,14.76 L253.30,14.57 L253.80,14.39 L254.30,14.23 L254.80,14.09 L255.30,13.97 L255.80,13.88 L256.30,13.80 L256.80,13.72 L257.30,13.65 L257.80,13.58 L258.30,13.52 L258.80,13.47 L259.30,13.43 L259.80,13.41 L260.30,13.40 L260.80,13.41 L261.30,13.44 L261.80,13.48 L262.30,13.54 L262.80,13.61 L263.30,13.70 L263.80,13.80 L264.30,13.90 L264.80,14.02 L265.30,14.14 L265.80,14.27 L266.30,14.43 L266.80,14.65 L267.30,14.93 L267.80,15.25 L268.30,15.63 L268.80,16.04 L269.30,16.48 L269.80,16.94 L270.30,17.42 L270.80,17.91 L271.30,18.40 L271.80,18.94 L272.30,19.52 L272.80,20.15 L273.30,20.82 L273.80,21.53 L274.30,22.27 L274.80,23.06 L275.30,23.87 L275.80,24.71 L276.30,25.58 L276.80,26.50 L277.30,27.50 L277.80,28.56 L278.30,29.68 L278.80,30.86 L279.30,32.07 L279.80,33.32 L280.30,34.60 L280.80,35.92 L281.30,37.31 L281.80,38.76 L282.30,40.27 L282.80,41.83 L283.30,43.46 L283.80,45.15 L284.30,46.92 L284.80,48.80 L285.30,50.78 L285.80,52.82 L286.30,54.92 L286.80,57.06 L287.30,59.21 L287.80,61.36 L288.30,63.56 L288.80,65.81 L289.30,68.09 L289.80,70.41 L290.30,72.73 L290.80,75.07 L291.30,77.41 L291.80,79.79 L292.30,82.19 L292.80,84.61 L293.30,87.03 L293.80,89.42 L294.30,91.77 L294.80,94.08 L295.30,96.35 L295.80,98.59 L296.30,100.82 L296.80,103.03 L297.30,105.24 L297.80,107.44 L298.30,109.65 L298.80,111.85 L299.30,114.05 L299.80,116.23 L300.30,118.38 L300.80,120.50 L301.30,122.59 L301.80,124.65 L302.30,126.69 L302.80,128.71 L303.30,130.72 L303.80,132.72 L304.30,134.71 L304.80,136.68 L305.30,138.61 L305.80,140.49 L306.30,142.37 L306.80,144.24 L307.30,146.14 L307.80,148.07 L308.30,150.07 L308.80,152.14 L309.30,154.33 L309.80,156.66 L310.30,159.12 L310.80,161.67 L311.30,164.27 L311.80,166.89 L312.30,169.51 L312.80,172.07 L313.30,174.56 L313.80,176.93 L314.30,179.16 L314.80,181.24 L315.30,183.28 L315.80,185.29 L316.30,187.26 L316.80,189.19 L317.30,191.08 L317.80,192.91 L318.30,194.69 L318.80,196.40 L319.30,198.04 L319.80,199.60 L320.30,201.08 L320.80,202.47 L321.30,203.77 L321.80,205.00 L322.30,206.17 L322.80,207.29 L323.30,208.35 L323.80,209.38 L324.30,210.38 L324.80,211.35 L325.30,212.30 L325.80,213.24 L326.30,214.18 L326.80,215.12 L327.30,216.06 L327.80,216.98 L328.30,217.87 L328.80,218.74 L329.30,219.60 L329.80,220.44 L330.30,221.28 L330.80,222.12 L331.30,222.96 L331.80,223.81 L332.30,224.67 L332.80,225.55 L333.30,226.45 L333.80,227.37 L334.30,228.32 L334.80,229.28 L335.30,230.26 L335.80,231.26 L336.30,232.26 L336.80,233.28 L337.30,234.30" fill="none" stroke="#ff0000" stroke-width="4"/>
<path d="M71.00,248.80 L71.50,248.20 L72.00,247.60 L72.50,246.98 L73.00,246.35 L73.50,245.71 L74.00,245.05 L74.50,244.39 L75.00,243.72 L75.50,243.03 L76.00,242.34 L76.50,241.64 L77.00,240.92 L77.50,240.20 L78.00,239.47 L78.50,238.74 L79.00,237.99 L79.50,237.24 L80.00,236.48 L80.50,235.71 L81.00,234.92 L81.50,234.11 L82.00,233.29 L82.50,232.44 L83.00,231.57 L83.50,230.68 L84.00,229.76 L84.50,228.82 L85.00,227.85 L85.50,226.85 L86.00,225.82 L86.50,224.76 L87.00,223.67 L87.50,222.54 L88.00,221.36 L88.50,220.15 L89.00,218.89 L89.50,217.58 L90.00,216.22 L90.50,214.81 L91.00,213.33 L91.50,211.78 L92.00,210.18 L92.50,208.50 L93.00,206.76 L93.50,204.95 L94.00,203.07 L94.50,201.12 L95.00,199.10 L95.50,197.00 L96.00,194.75 L96.50,192.30 L97.00,189.68 L97.50,186.91 L98.00,184.05 L98.50,181.11 L99.00,178.14 L99.50,175.17 L100.00,172.23 L100.50,169.36 L101.00,166.60 L101.50,163.96 L102.00,161.39 L102.50,158.86 L103.00,156.37 L103.50,153.90 L104.00,151.44 L104.50,148.98 L105.00,146.51 L105.50,144.01 L106.00,141.48 L106.50,138.94 L107.00,136.39 L107.50,133.84 L108.00,131.28 L108.50,128.71 L109.00,126.15 L109.50,123.58 L110.00,121.02 L110.50,118.46 L111.00,115.90 L111.50,113.33 L112.00,110.76 L112.50,108.19 L113.00,105.62 L113.50,103.07 L114.00,100.53 L114.50,98.00 L115.00,95.49 L115.50,93.00 L116.00,90.51 L116.50,88.04 L117.00,85.57 L117.50,83.11 L118.00,80.65 L118.50,78.18 L119.00,75.71 L119.50,73.23 L120.00,70.75 L120.50,68.27 L121.00,65.80 L121.50,63.33 L122.00,60.87 L122.50,58.43 L123.00,56.00 L123.50,53.56 L124.00,51.08 L124.50,48.60 L125.00,46.15 L125.50,43.75 L126.00,41.44 L126.50,39.25 L127.00,37.20 L127.50,35.28 L128.00,33.47 L128.50,31.72 L129.00,30.00 L129.50,28.29 L130.00,26.61 L130.50,24.98 L131.00,23.41 L131.50,21.89 L132.00,20.28 L132.50,18.71 L133.00,17.39 L133.50,16.50 L134.00,15.92 L134.50,15.40 L135.00,14.98 L135.50,14.70 L136.00,14.60 L136.50,14.61 L137.00,14.63 L137.50,14.66 L138.00,14.70 L138.50,14.74 L139.00,14.80 L139.50,14.91 L140.00,15.11 L140.50,15.37 L141.00,15.67 L141.50,15.99 L142.00,16.30 L142.50,16.62 L143.00,16.97 L143.50,17.34 L144.00,17.73 L144.50,18.14 L145.00,18.56 L145.50,18.99 L146.00,19.41 L146.50,19.84 L147.00,20.27 L147.50,20.71 L148.00,21.16 L148.50,21.62 L149.00,22.09 L149.50,22.57 L150.00,23.07 L150.50,23.59 L151.00,24.12 L151.50,24.69 L152.00,25.27 L152.50,25.88 L153.00,26.50 L153.50,27.14 L154.00,27.79 L154.50,28.44 L155.00,29.10 L155.50,29.77 L156.00,30.46 L156.50,31.18 L157.00,31.92 L157.50,32.69 L158.00,33.46 L158.50,34.25 L159.00,35.03 L159.50,35.81 L160.00,36.58 L160.50,37.33 L161.00,38.06 L161.50,38.77 L162.00,39.44 L162.50,40.07 L163.00,40.66 L163.50,41.20 L164.00,41.70 L164.50,42.17 L165.00,42.62 L165.50,43.04 L166.00,43.45 L166.50,43.85 L167.00,44.24 L167.50,44.63 L168.00,45.02 L168.50,45.42 L169.00,45.83 L169.50,46.26 L170.00,46.72 L170.50,47.19 L171.00,47.66 L171.50,48.14 L172.00,48.61 L172.50,49.06 L173.00,49.48 L173.50,49.87 L174.00,50.22 L174.50,50.51 L175.00,50.79 L175.50,51.05 L176.00,51.31 L176.50,51.55 L177.00,51.78 L177.50,52.00 L178.00,52.22 L178.50,52.42 L179.00,52.61 L179.50,52.80 L180.00,52.97 L180.50,53.14 L181.00,53.30 L181.50,53.45 L182.00,53.60 L182.50,53.75 L183.00,53.89 L183.50,54.04 L184.00,54.19 L184.50,54.33 L185.00,54.46 L185.50,54.59 L186.00,54.70 L186.50,54.80 L187.00,54.88 L187.50,54.95 L188.00,54.99 L188.50,55.01 L189.00,55.02 L189.50,55.03 L190.00,55.04 L190.50,55.05 L191.00,55.06 L191.50,55.07 L192.00,55.08 L192.50,55.09 L193.00,55.09 L193.50,55.09 L194.00,55.10 L194.50,55.10 L195.00,55.10 L195.50,55.09 L196.00,55.05 L196.50,54.98 L197.00,54.90 L197.50,54.80 L198.00,54.68 L198.50,54.54 L199.00,54.39 L199.50,54.23 L200.00,54.06 L200.50,53.89 L201.00,53.71 L201.50,53.53 L202.00,53.34 L202.50,53.16 L203.00,52.96 L203.50,52.73 L204.00,52.48 L204.50,52.21 L205.00,51.91 L205.50,51.61 L206.00,51.29 L206.50,50.97 L207.00,50.65 L207.50,50.32 L208.00,50.00 L208.50,49.68 L209.00,49.38 L209.50,49.08 L210.00,48.79 L210.50,48.49 L211.00,48.20 L211.50,47.90 L212.00,47.61 L212.50,47.31 L213.00,47.00 L213.50,46.69 L214.00,46.37 L214.50,46.04 L215.00,45.70 L215.50,45.35 L216.00,44.98 L216.50,44.60 L217.00,44.20 L217.50,43.77 L218.00,43.33 L218.50,42.86 L219.00,42.38 L219.50,41.88 L220.00,41.37 L220.50,40.85 L221.00,40.32 L221.50,39.79 L222.00,39.25 L222.50,38.71 L223.00,38.17 L223.50,37.64 L224.00,37.11 L224.50,36.58 L225.00,36.03 L225.50,35.48 L226.00,34.93 L226.50,34.36 L227.00,33.80 L227.50,33.23 L228.00,32.67 L228.50,32.11 L229.00,31.57 L229.50,31.03 L230.00,30.50 L230.50,29.98 L231.00,29.47 L231.50,28.96 L232.00,28.45 L232.50,27.95 L233.00,27.45 L233.50,26.96 L234.00,26.48 L234.50,26.01 L235.00,25.54 L235.50,25.08 L236.00,24.63 L236.50,24.19 L237.00,23.75 L237.50,23.31 L238.00,22.89 L238.50,22.47 L239.00,22.05 L239.50,21.65 L240.00,21.26 L240.50,20.87 L241.00,20.50 L241.50,20.14 L242.00,19.78 L242.50,19.42 L243.00,19.08 L243.50,18.74 L244.00,18.41 L244.50,18.09 L245.00,17.78 L245.50,17.48 L246.00,17.20 L246.50,16.92 L247.00,16.64 L247.50,16.36 L248.00,16.09 L248.50,15.83 L249.00,15.58 L249.50,15.35 L250.00,15.14 L250.50,14.96 L251.00,14.80 L251.50,14.66 L252.00,14.52 L252.50,14.38 L253.00,14.25 L253.50,14.14 L254.00,14.04 L254.50,13.97 L255.00,13.92 L255.50,13.90 L256.00,13.90 L256.50,13.90 L257.00,13.90 L257.50,13.90 L258.00,13.90 L258.50,13.90 L259.00,13.90 L259.50,13.93 L260.00,14.00 L260.50,14.12 L261.00,14.26 L261.50,14.43 L262.00,14.60 L262.50,14.81 L263.00,15.09 L263.50,15.42 L264.00,15.80 L264.50,16.22 L265.00,16.67 L265.50,17.13 L266.00,17.60 L266.50,18.09 L267.00,18.61 L267.50,19.16 L268.00,19.76 L268.50,20.40 L269.00,21.08 L269.50,21.82 L270.00,22.60 L270.50,23.48 L271.00,24.48 L271.50,25.58 L272.00,26.77 L272.50,28.02 L273.00,29.32 L273.50,30.63 L274.00,31.95 L274.50,33.25 L275.00,34.51 L275.50,35.72 L276.00,36.90 L276.50,38.06 L277.00,39.21 L277.50,40.37 L278.00,41.54 L278.50,42.75 L279.00,43.99 L279.50,45.29 L280.00,46.65 L280.50,48.08 L281.00,49.61 L281.50,51.23 L282.00,52.92 L282.50,54.67 L283.00,56.46 L283.50,58.29 L284.00,60.14 L284.50,62.00 L285.00,63.92 L285.50,65.93 L286.00,68.00 L286.50,70.08 L287.00,72.13 L287.50,74.12 L288.00,76.00 L288.50,77.74 L289.00,79.37 L289.50,80.95 L290.00,82.54 L290.50,84.21 L291.00,86.00 L291.50,87.97 L292.00,90.10 L292.50,92.31 L293.00,94.55 L293.50,96.77 L294.00,98.90 L294.50,100.93 L295.00,102.91 L295.50,104.86 L296.00,106.81 L296.50,108.77 L297.00,110.77 L297.50,112.84 L298.00,114.98 L298.50,117.17 L299.00,119.38 L299.50,121.58 L300.00,123.74 L300.50,125.83 L301.00,127.85 L301.50,129.83 L302.00,131.79 L302.50,133.75 L303.00,135.73 L303.50,137.75 L304.00,139.85 L304.50,142.01 L305.00,144.23 L305.50,146.48 L306.00,148.74 L306.50,151.00 L307.00,153.22 L307.50,155.40 L308.00,157.55 L308.50,159.71 L309.00,161.86 L309.50,163.99 L310.00,166.08 L310.50,168.12 L311.00,170.10 L311.50,172.00 L312.00,173.83 L312.50,175.60 L313.00,177.32 L313.50,179.00 L314.00,180.65 L314.50,182.27 L315.00,183.87 L315.50,185.46 L316.00,187.05 L316.50,188.64 L317.00,190.20 L317.50,191.75 L318.00,193.28 L318.50,194.78 L319.00,196.24 L319.50,197.67 L320.00,199.05 L320.50,200.39 L321.00,201.69 L321.50,202.96 L322.00,204.21 L322.50,205.44 L323.00,206.66 L323.50,207.87 L324.00,209.09 L324.50,210.31 L325.00,211.55 L325.50,212.79 L326.00,214.02 L326.50,215.25 L327.00,216.46 L327.50,217.64 L328.00,218.80 L328.50,219.92 L329.00,221.00 L329.50,222.03 L330.00,223.00 L330.50,223.94 L331.00,224.86 L331.50,225.76 L332.00,226.64 L332.50,227.50 L333.00,228.34 L333.50,229.16 L334.00,229.96 L334.50,230.73 L335.00,231.47 L335.50,232.18 L336.00,232.87 L336.50,233.52 L337.00,234.14 L337.30,234.50" fill="none" stroke="#0000ff" stroke-width="4" stroke-dasharray="14.5 14" stroke-dashoffset="0"/>
<path d="M71.40,252.90 L71.90,252.53 L72.40,252.12 L72.90,251.70 L73.40,251.25 L73.90,250.78 L74.40,250.28 L74.90,249.77 L75.40,249.23 L75.90,248.68 L76.40,248.11 L76.90,247.52 L77.40,246.92 L77.90,246.30 L78.40,245.65 L78.90,244.97 L79.40,244.26 L79.90,243.52 L80.40,242.76 L80.90,241.97 L81.40,241.15 L81.90,240.31 L82.40,239.45 L82.90,238.57 L83.40,237.67 L83.90,236.75 L84.40,235.81 L84.90,234.85 L85.40,233.86 L85.90,232.84 L86.40,231.80 L86.90,230.72 L87.40,229.60 L87.90,228.45 L88.40,227.26 L88.90,226.04 L89.40,224.77 L89.90,223.45 L90.40,222.09 L90.90,220.69 L91.40,219.22 L91.90,217.66 L92.40,216.03 L92.90,214.31 L93.40,212.52 L93.90,210.66 L94.40,208.73 L94.90,206.74 L95.40,204.69 L95.90,202.59 L96.40,200.44 L96.90,198.23 L97.40,195.97 L97.90,193.64 L98.40,191.24 L98.90,188.76 L99.40,186.21 L99.90,183.57 L100.40,180.84 L100.90,178.01 L101.40,175.08 L101.90,172.05 L102.40,168.92 L102.90,165.66 L103.40,162.10 L103.90,158.01 L104.40,153.69 L104.90,149.45 L105.40,145.60 L105.90,142.19 L106.40,139.01 L106.90,135.98 L107.40,133.01 L107.90,130.02 L108.40,126.93 L108.90,123.68 L109.40,120.31 L109.90,116.87 L110.40,113.38 L110.90,109.86 L111.40,106.32 L111.90,102.80 L112.40,99.30 L112.90,95.79 L113.40,92.25 L113.90,88.69 L114.40,85.14 L114.90,81.61 L115.40,78.12 L115.90,74.68 L116.40,71.32 L116.90,68.03 L117.40,64.77 L117.90,61.57 L118.40,58.48 L118.90,55.56 L119.40,52.80 L119.90,50.14 L120.40,47.58 L120.90,45.15 L121.40,42.87 L121.90,40.72 L122.40,38.63 L122.90,36.66 L123.40,34.85 L123.90,33.28 L124.40,31.92 L124.90,30.65 L125.40,29.48 L125.90,28.44 L126.40,27.57 L126.90,26.87 L127.40,26.24 L127.90,25.63 L128.40,25.11 L128.90,24.73 L129.40,24.52 L129.90,24.51 L130.40,24.56 L130.90,24.66 L131.40,24.79 L131.90,24.96 L132.40,25.15 L132.90,25.36 L133.40,25.64 L133.90,26.09 L134.40,26.68 L134.90,27.40 L135.40,28.19 L135.90,29.05 L136.40,29.93 L136.90,30.80 L137.40,31.72 L137.90,32.76 L138.40,33.88 L138.90,35.06 L139.40,36.29 L139.90,37.55 L140.40,38.81 L140.90,40.06 L141.40,41.27 L141.90,42.44 L142.40,43.63 L142.90,44.84 L143.40,46.04 L143.90,47.24 L144.40,48.43 L144.90,49.60 L145.40,50.75 L145.90,51.86 L146.40,52.95 L146.90,54.01 L147.40,55.07 L147.90,56.11 L148.40,57.13 L148.90,58.15 L149.40,59.14 L149.90,60.13 L150.40,61.09 L150.90,62.04 L151.40,62.97 L151.90,63.88 L152.40,64.78 L152.90,65.67 L153.40,66.56 L153.90,67.45 L154.40,68.34 L154.90,69.21 L155.40,70.08 L155.90,70.93 L156.40,71.76 L156.90,72.57 L157.40,73.35 L157.90,74.11 L158.40,74.83 L158.90,75.52 L159.40,76.17 L159.90,76.78 L160.40,77.36 L160.90,77.93 L161.40,78.50 L161.90,79.05 L162.40,79.60 L162.90,80.12 L163.40,80.63 L163.90,81.12 L164.40,81.58 L164.90,82.02 L165.40,82.42 L165.90,82.80 L166.40,83.14 L166.90,83.44 L167.40,83.71 L167.90,83.93 L168.40,84.16 L168.90,84.38 L169.40,84.59 L169.90,84.80 L170.40,85.00 L170.90,85.19 L171.40,85.37 L171.90,85.53 L172.40,85.67 L172.90,85.80 L173.40,85.91 L173.90,85.99 L174.40,86.05 L174.90,86.09 L175.40,86.10 L175.90,86.09 L176.40,86.05 L176.90,86.00 L177.40,85.93 L177.90,85.85 L178.40,85.75 L178.90,85.64 L179.40,85.52 L179.90,85.38 L180.40,85.23 L180.90,85.08 L181.40,84.92 L181.90,84.75 L182.40,84.57 L182.90,84.39 L183.40,84.21 L183.90,84.02 L184.40,83.84 L184.90,83.64 L185.40,83.42 L185.90,83.16 L186.40,82.88 L186.90,82.58 L187.40,82.26 L187.90,81.92 L188.40,81.55 L188.90,81.18 L189.40,80.78 L189.90,80.38 L190.40,79.96 L190.90,79.54 L191.40,79.10 L191.90,78.66 L192.40,78.22 L192.90,77.75 L193.40,77.25 L193.90,76.72 L194.40,76.16 L194.90,75.59 L195.40,74.99 L195.90,74.38 L196.40,73.75 L196.90,73.11 L197.40,72.47 L197.90,71.81 L198.40,71.16 L198.90,70.50 L199.40,69.85 L199.90,69.20 L200.40,68.55 L200.90,67.88 L201.40,67.20 L201.90,66.52 L202.40,65.82 L202.90,65.11 L203.40,64.40 L203.90,63.69 L204.40,62.97 L204.90,62.25 L205.40,61.53 L205.90,60.81 L206.40,60.10 L206.90,59.38 L207.40,58.68 L207.90,57.98 L208.40,57.29 L208.90,56.59 L209.40,55.90 L209.90,55.21 L210.40,54.51 L210.90,53.82 L211.40,53.13 L211.90,52.44 L212.40,51.75 L212.90,51.05 L213.40,50.36 L213.90,49.66 L214.40,48.96 L214.90,48.26 L215.40,47.56 L215.90,46.87 L216.40,46.19 L216.90,45.52 L217.40,44.86 L217.90,44.19 L218.40,43.52 L218.90,42.83 L219.40,42.13 L219.90,41.40 L220.40,40.63 L220.90,39.84 L221.40,39.00 L221.90,38.07 L222.40,37.03 L222.90,35.92 L223.40,34.79 L223.90,33.67 L224.40,32.62 L224.90,31.67 L225.40,30.83 L225.90,30.01 L226.40,29.22 L226.90,28.46 L227.40,27.72 L227.90,27.02 L228.40,26.34 L228.90,25.70 L229.40,25.09 L229.90,24.52 L230.40,23.98 L230.90,23.45 L231.40,22.93 L231.90,22.44 L232.40,21.96 L232.90,21.51 L233.40,21.08 L233.90,20.69 L234.40,20.32 L234.90,19.98 L235.40,19.68 L235.90,19.38 L236.40,19.07 L236.90,18.77 L237.40,18.48 L237.90,18.22 L238.40,17.98 L238.90,17.78 L239.40,17.63 L239.90,17.53 L240.40,17.50 L240.90,17.51 L241.40,17.53 L241.90,17.58 L242.40,17.63 L242.90,17.70 L243.40,17.78 L243.90,17.87 L244.40,17.96 L244.90,18.07 L245.40,18.18 L245.90,18.31 L246.40,18.48 L246.90,18.70 L247.40,18.96 L247.90,19.26 L248.40,19.58 L248.90,19.94 L249.40,20.32 L249.90,20.72 L250.40,21.13 L250.90,21.57 L251.40,22.09 L251.90,22.69 L252.40,23.36 L252.90,24.07 L253.40,24.83 L253.90,25.62 L254.40,26.42 L254.90,27.23 L255.40,28.03 L255.90,28.81 L256.40,29.61 L256.90,30.42 L257.40,31.24 L257.90,32.10 L258.40,32.98 L258.90,33.88 L259.40,34.82 L259.90,35.80 L260.40,36.83 L260.90,37.90 L261.40,39.03 L261.90,40.18 L262.40,41.37 L262.90,42.58 L263.40,43.80 L263.90,45.05 L264.40,46.34 L264.90,47.66 L265.40,49.00 L265.90,50.36 L266.40,51.73 L266.90,53.09 L267.40,54.46 L267.90,55.84 L268.40,57.23 L268.90,58.64 L269.40,60.06 L269.90,61.51 L270.40,62.99 L270.90,64.50 L271.40,66.05 L271.90,67.64 L272.40,69.26 L272.90,70.92 L273.40,72.59 L273.90,74.29 L274.40,76.00 L274.90,77.72 L275.40,79.44 L275.90,81.16 L276.40,82.87 L276.90,84.58 L277.40,86.26 L277.90,87.94 L278.40,89.61 L278.90,91.29 L279.40,92.96 L279.90,94.64 L280.40,96.31 L280.90,97.98 L281.40,99.66 L281.90,101.33 L282.40,103.00 L282.90,104.67 L283.40,106.34 L283.90,108.00 L284.40,109.67 L284.90,111.33 L285.40,112.99 L285.90,114.65 L286.40,116.31 L286.90,117.97 L287.40,119.63 L287.90,121.28 L288.40,122.94 L288.90,124.59 L289.40,126.24 L289.90,127.89 L290.40,129.53 L290.90,131.17 L291.40,132.81 L291.90,134.45 L292.40,136.10 L292.90,137.74 L293.40,139.37 L293.90,141.01 L294.40,142.64 L294.90,144.27 L295.40,145.88 L295.90,147.49 L296.40,149.09 L296.90,150.68 L297.40,152.26 L297.90,153.84 L298.40,155.42 L298.90,156.99 L299.40,158.55 L299.90,160.11 L300.40,161.66 L300.90,163.19 L301.40,164.72 L301.90,166.24 L302.40,167.74 L302.90,169.23 L303.40,170.71 L303.90,172.17 L304.40,173.61 L304.90,175.04 L305.40,176.45 L305.90,177.86 L306.40,179.25 L306.90,180.63 L307.40,182.01 L307.90,183.37 L308.40,184.73 L308.90,186.09 L309.40,187.48 L309.90,188.88 L310.40,190.29 L310.90,191.70 L311.40,193.09 L311.90,194.47 L312.40,195.82 L312.90,197.14 L313.40,198.41 L313.90,199.63 L314.40,200.79 L314.90,201.88 L315.40,202.90 L315.90,203.86 L316.40,204.79 L316.90,205.68 L317.40,206.53 L317.90,207.36 L318.40,208.16 L318.90,208.95 L319.40,209.72 L319.90,210.47 L320.40,211.22 L320.90,211.96 L321.40,212.70 L321.90,213.44 L322.40,214.20 L322.90,214.96 L323.40,215.71 L323.90,216.47 L324.40,217.22 L324.90,217.96 L325.40,218.70 L325.90,219.43 L326.40,220.15 L326.90,220.87 L327.40,221.58 L327.90,222.28 L328.40,222.98 L328.90,223.66 L329.40,224.34 L329.90,225.00 L330.40,225.66 L330.90,226.31 L331.40,226.95 L331.90,227.59 L332.40,228.21 L332.90,228.84 L333.40,229.45 L333.90,230.06 L334.40,230.66 L334.90,231.26 L335.40,231.84 L335.90,232.42 L336.40,232.99 L336.90,233.56 L337.30,234.00" fill="none" stroke="#00ff00" stroke-width="4" stroke-dasharray="14.5 3.5 7.5 3.5" stroke-dashoffset="0"/>
<path d="M72.10,262.40 L72.60,262.28 L73.10,262.12 L73.60,261.92 L74.10,261.69 L74.60,261.43 L75.10,261.14 L75.60,260.83 L76.10,260.49 L76.60,260.13 L77.10,259.76 L77.60,259.37 L78.10,258.96 L78.60,258.55 L79.10,258.13 L79.60,257.65 L80.10,257.12 L80.60,256.54 L81.10,255.91 L81.60,255.24 L82.10,254.53 L82.60,253.79 L83.10,253.02 L83.60,252.24 L84.10,251.43 L84.60,250.62 L85.10,249.79 L85.60,248.97 L86.10,248.13 L86.60,247.27 L87.10,246.37 L87.60,245.45 L88.10,244.50 L88.60,243.53 L89.10,242.53 L89.60,241.50 L90.10,240.45 L90.60,239.37 L91.10,238.27 L91.60,237.15 L92.10,236.00 L92.60,234.83 L93.10,233.64 L93.60,232.42 L94.10,231.17 L94.60,229.88 L95.10,228.55 L95.60,227.17 L96.10,225.73 L96.60,224.24 L97.10,222.69 L97.60,221.07 L98.10,219.37 L98.60,217.57 L99.10,215.67 L99.60,213.67 L100.10,211.55 L100.60,209.32 L101.10,206.98 L101.60,204.52 L102.10,201.93 L102.60,199.16 L103.10,196.19 L103.60,192.98 L104.10,189.52 L104.60,185.78 L105.10,181.68 L105.60,177.08 L106.10,171.93 L106.60,166.21 L107.10,159.57 L107.60,151.69 L108.10,143.26 L108.60,135.00 L109.10,126.84 L109.60,118.44 L110.10,110.13 L110.60,102.21 L111.10,95.00 L111.60,88.31 L112.10,81.89 L112.60,75.96 L113.10,70.72 L113.60,66.35 L114.10,62.56 L114.60,59.20 L115.10,56.20 L115.60,53.47 L116.10,50.87 L116.60,48.52 L117.10,46.60 L117.60,45.17 L118.10,43.86 L118.60,42.82 L119.10,42.32 L119.60,42.49 L120.10,43.16 L120.60,44.14 L121.10,45.23 L121.60,46.78 L122.10,48.81 L122.60,51.11 L123.10,53.47 L123.60,55.83 L124.10,58.44 L124.60,61.56 L125.10,65.73 L125.60,71.87 L126.10,79.02 L126.60,86.07 L127.10,91.88 L127.60,96.03 L128.10,99.54 L128.60,102.66 L129.10,105.64 L129.60,108.70 L130.10,112.00 L130.60,115.36 L131.10,118.73 L131.60,122.09 L132.10,125.40 L132.60,128.65 L133.10,131.93 L133.60,135.23 L134.10,138.47 L134.60,141.57 L135.10,144.43 L135.60,146.99 L136.10,149.36 L136.60,151.59 L137.10,153.71 L137.60,155.72 L138.10,157.66 L138.60,159.53 L139.10,161.37 L139.60,163.20 L140.10,165.02 L140.60,166.82 L141.10,168.56 L141.60,170.23 L142.10,171.80 L142.60,173.25 L143.10,174.57 L143.60,175.72 L144.10,176.75 L144.60,177.71 L145.10,178.59 L145.60,179.42 L146.10,180.21 L146.60,180.96 L147.10,181.69 L147.60,182.42 L148.10,183.15 L148.60,183.87 L149.10,184.60 L149.60,185.31 L150.10,186.01 L150.60,186.69 L151.10,187.35 L151.60,188.00 L152.10,188.61 L152.60,189.21 L153.10,189.77 L153.60,190.30 L154.10,190.80 L154.60,191.30 L155.10,191.79 L155.60,192.27 L156.10,192.74 L156.60,193.19 L157.10,193.62 L157.60,194.02 L158.10,194.40 L158.60,194.74 L159.10,195.05 L159.60,195.32 L160.10,195.54 L160.60,195.75 L161.10,195.96 L161.60,196.16 L162.10,196.35 L162.60,196.54 L163.10,196.72 L163.60,196.88 L164.10,197.04 L164.60,197.18 L165.10,197.30 L165.60,197.40 L166.10,197.49 L166.60,197.55 L167.10,197.59 L167.60,197.60 L168.10,197.59 L168.60,197.56 L169.10,197.51 L169.60,197.45 L170.10,197.37 L170.60,197.28 L171.10,197.17 L171.60,197.05 L172.10,196.92 L172.60,196.78 L173.10,196.63 L173.60,196.47 L174.10,196.31 L174.60,196.14 L175.10,195.96 L175.60,195.75 L176.10,195.48 L176.60,195.16 L177.10,194.80 L177.60,194.40 L178.10,193.96 L178.60,193.50 L179.10,193.00 L179.60,192.49 L180.10,191.96 L180.60,191.42 L181.10,190.88 L181.60,190.33 L182.10,189.78 L182.60,189.20 L183.10,188.59 L183.60,187.95 L184.10,187.27 L184.60,186.57 L185.10,185.84 L185.60,185.08 L186.10,184.30 L186.60,183.50 L187.10,182.67 L187.60,181.83 L188.10,180.95 L188.60,180.02 L189.10,179.06 L189.60,178.05 L190.10,177.01 L190.60,175.95 L191.10,174.86 L191.60,173.74 L192.10,172.61 L192.60,171.46 L193.10,170.30 L193.60,169.12 L194.10,167.90 L194.60,166.65 L195.10,165.37 L195.60,164.07 L196.10,162.74 L196.60,161.39 L197.10,160.01 L197.60,158.62 L198.10,157.22 L198.60,155.79 L199.10,154.34 L199.60,152.87 L200.10,151.37 L200.60,149.84 L201.10,148.29 L201.60,146.72 L202.10,145.13 L202.60,143.51 L203.10,141.87 L203.60,140.21 L204.10,138.52 L204.60,136.80 L205.10,135.04 L205.60,133.25 L206.10,131.42 L206.60,129.54 L207.10,127.61 L207.60,125.60 L208.10,123.52 L208.60,121.38 L209.10,119.20 L209.60,116.99 L210.10,114.77 L210.60,112.56 L211.10,110.33 L211.60,108.08 L212.10,105.81 L212.60,103.52 L213.10,101.21 L213.60,98.88 L214.10,96.53 L214.60,94.18 L215.10,91.82 L215.60,89.44 L216.10,87.03 L216.60,84.58 L217.10,82.06 L217.60,79.47 L218.10,76.68 L218.60,73.74 L219.10,70.81 L219.60,68.02 L220.10,65.53 L220.60,63.33 L221.10,61.32 L221.60,59.39 L222.10,57.44 L222.60,55.38 L223.10,53.13 L223.60,50.74 L224.10,48.27 L224.60,45.74 L225.10,43.21 L225.60,40.68 L226.10,38.01 L226.60,35.27 L227.10,32.61 L227.60,30.18 L228.10,28.12 L228.60,26.24 L229.10,24.47 L229.60,22.82 L230.10,21.34 L230.60,20.06 L231.10,19.00 L231.60,18.06 L232.10,17.13 L232.60,16.27 L233.10,15.53 L233.60,14.98 L234.10,14.66 L234.60,14.64 L235.10,15.05 L235.60,15.84 L236.10,16.90 L236.60,18.14 L237.10,19.47 L237.60,20.91 L238.10,22.86 L238.60,25.15 L239.10,27.55 L239.60,29.96 L240.10,32.55 L240.60,35.18 L241.10,37.67 L241.60,40.02 L242.10,42.35 L242.60,44.79 L243.10,47.28 L243.60,49.85 L244.10,52.55 L244.60,55.40 L245.10,58.37 L245.60,61.42 L246.10,64.50 L246.60,67.65 L247.10,70.87 L247.60,74.12 L248.10,77.36 L248.60,80.56 L249.10,83.76 L249.60,86.95 L250.10,90.08 L250.60,93.15 L251.10,96.18 L251.60,99.17 L252.10,102.14 L252.60,105.10 L253.10,108.05 L253.60,111.01 L254.10,114.00 L254.60,117.02 L255.10,120.08 L255.60,123.15 L256.10,126.22 L256.60,129.26 L257.10,132.25 L257.60,135.16 L258.10,138.08 L258.60,141.01 L259.10,143.93 L259.60,146.82 L260.10,149.66 L260.60,152.43 L261.10,155.12 L261.60,157.69 L262.10,160.14 L262.60,162.45 L263.10,164.65 L263.60,166.76 L264.10,168.79 L264.60,170.74 L265.10,172.62 L265.60,174.43 L266.10,176.16 L266.60,177.83 L267.10,179.43 L267.60,180.97 L268.10,182.45 L268.60,183.89 L269.10,185.28 L269.60,186.63 L270.10,187.95 L270.60,189.24 L271.10,190.52 L271.60,191.76 L272.10,192.99 L272.60,194.20 L273.10,195.38 L273.60,196.53 L274.10,197.67 L274.60,198.78 L275.10,199.87 L275.60,200.94 L276.10,201.98 L276.60,203.00 L277.10,204.00 L277.60,204.99 L278.10,205.97 L278.60,206.93 L279.10,207.87 L279.60,208.80 L280.10,209.70 L280.60,210.59 L281.10,211.45 L281.60,212.29 L282.10,213.10 L282.60,213.89 L283.10,214.65 L283.60,215.39 L284.10,216.11 L284.60,216.82 L285.10,217.52 L285.60,218.19 L286.10,218.86 L286.60,219.50 L287.10,220.13 L287.60,220.75 L288.10,221.35 L288.60,221.94 L289.10,222.51 L289.60,223.07 L290.10,223.61 L290.60,224.14 L291.10,224.66 L291.60,225.18 L292.10,225.69 L292.60,226.19 L293.10,226.69 L293.60,227.18 L294.10,227.65 L294.60,228.13 L295.10,228.59 L295.60,229.04 L296.10,229.48 L296.60,229.92 L297.10,230.35 L297.60,230.77 L298.10,231.17 L298.60,231.57 L299.10,231.96 L299.60,232.34 L300.10,232.71 L300.60,233.07 L301.10,233.42 L301.60,233.77 L302.10,234.10 L302.60,234.43 L303.10,234.75 L303.60,235.06 L304.10,235.37 L304.60,235.67 L305.10,235.96 L305.60,236.24 L306.10,236.52 L306.60,236.78 L307.10,237.05 L307.60,237.30 L308.10,237.55 L308.60,237.79 L309.10,238.02 L309.60,238.25 L310.10,238.47 L310.60,238.69 L311.10,238.90 L311.60,239.10 L312.10,239.31 L312.60,239.51 L313.10,239.70 L313.60,239.89 L314.10,240.09 L314.60,240.27 L315.10,240.46 L315.60,240.65 L316.10,240.83 L316.60,241.02 L317.10,241.20 L317.60,241.38 L318.10,241.56 L318.60,241.74 L319.10,241.91 L319.60,242.08 L320.10,242.26 L320.60,242.43 L321.10,242.59 L321.60,242.76 L322.10,242.92 L322.60,243.09 L323.10,243.25 L323.60,243.41 L324.10,243.56 L324.60,243.72 L325.10,243.87 L325.60,244.02 L326.10,244.17 L326.60,244.32 L327.10,244.46 L327.60,244.61 L328.10,244.75 L328.60,244.89 L329.10,245.03 L329.60,245.17 L330.10,245.31 L330.60,245.45 L331.10,245.58 L331.60,245.71 L332.10,245.84 L332.60,245.97 L333.10,246.10 L333.60,246.23 L334.10,246.35 L334.60,246.47 L335.10,246.59 L335.60,246.71 L336.10,246.83 L336.40,246.90" fill="none" stroke="#00ffff" stroke-width="4" stroke-dasharray="3.5 3.5" stroke-dashoffset="0"/>
</g>
<line x1="187" y1="177.8" x2="210" y2="177.8" stroke="#ff0000" stroke-width="3.6"/>
<line x1="187" y1="202.7" x2="210" y2="202.7" stroke="#0000ff" stroke-width="3.6" stroke-dasharray="14.5 14"/>
<line x1="187" y1="227.8" x2="210" y2="227.8" stroke="#00ff00" stroke-width="3.6" stroke-dasharray="14.5 3.8 7.5 3.8"/>
<line x1="187" y1="252.5" x2="210" y2="252.5" stroke="#00ffff" stroke-width="3.6" stroke-dasharray="3 4"/>
<text transform="translate(211.92,186.20) scale(0.06943,0.1)" font-size="176.98">theta=0°</text>
<text transform="translate(211.92,210.40) scale(0.06896,0.1)" font-size="176.98">theta=25°</text>
<text transform="translate(211.91,235.50) scale(0.06993,0.1)" font-size="176.98">theta=50°</text>
<text transform="translate(211.91,259.70) scale(0.06993,0.1)" font-size="176.98">theta=75°</text>
<text transform="translate(33.56,277.16) scale(0.06973,0.1)" font-size="242.96" fill="#000">0</text>
<text transform="translate(22.41,225.96) scale(0.06521,0.1)" font-size="241.18" fill="#000">0.2</text>
<text transform="translate(22.42,174.88) scale(0.06384,0.1)" font-size="241.18" fill="#000">0.4</text>
<text transform="translate(22.42,123.80) scale(0.06452,0.1)" font-size="241.18" fill="#000">0.6</text>
<text transform="translate(22.42,72.72) scale(0.06465,0.1)" font-size="241.18" fill="#000">0.8</text>
<text transform="translate(33.29,21.20) scale(0.06820,0.1)" font-size="239.39" fill="#000">1</text>
<text transform="translate(38.40,298.46) scale(0.06761,0.1)" font-size="240.00" fill="#000">18</text>
<text transform="translate(87.68,298.46) scale(0.06522,0.1)" font-size="240.00" fill="#000">20</text>
<text transform="translate(136.33,298.70) scale(0.06436,0.1)" font-size="244.53" fill="#000">22</text>
<text transform="translate(185.00,298.70) scale(0.06265,0.1)" font-size="244.53" fill="#000">24</text>
<text transform="translate(233.64,298.46) scale(0.06445,0.1)" font-size="240.89" fill="#000">26</text>
<text transform="translate(282.29,298.46) scale(0.06486,0.1)" font-size="240.00" fill="#000">28</text>
<text transform="translate(331.02,298.46) scale(0.06486,0.1)" font-size="240.00" fill="#000">30</text>
<text transform="translate(123.96,332.40) scale(0.06291,0.1)" font-size="308.40">Frequency(THz)</text>
<text transform="translate(15.91,171.12) scale(0.06242,0.1) rotate(-90)" font-size="297.80">PCR</text>
<text transform="translate(150.43,383.16) scale(0.10792,0.1)" font-size="232.51" fill="#000">(a)</text>
<g shape-rendering="crispEdges">
<rect x="413" y="4" width="240.00" height="18" fill="url(#r14)"/>
<rect x="413" y="22" width="240.00" height="18" fill="url(#r13)"/>
<rect x="413" y="40" width="240.00" height="18" fill="url(#r12)"/>
<rect x="413" y="58" width="240.00" height="18" fill="url(#r11)"/>
<rect x="413" y="76" width="240.00" height="18" fill="url(#r10)"/>
<rect x="413" y="94" width="240.00" height="18" fill="url(#r9)"/>
<rect x="413" y="112" width="240.00" height="18" fill="url(#r8)"/>
<rect x="413" y="130" width="240.00" height="19" fill="url(#r7)"/>
<rect x="413" y="149" width="240.00" height="18" fill="url(#r6)"/>
<rect x="413" y="167" width="240.00" height="18" fill="url(#r5)"/>
<rect x="413" y="185" width="240.00" height="18" fill="url(#r4)"/>
<rect x="413" y="203" width="240.00" height="18" fill="url(#r3)"/>
<rect x="413" y="221" width="240.00" height="18" fill="url(#r2)"/>
<rect x="413" y="239" width="240.00" height="18" fill="url(#r1)"/>
<rect x="413" y="257" width="240.00" height="18" fill="url(#r0)"/>
</g>
<path d="M478.50,275 v-2.6 M478.50,4 v2.6 M521.40,275 v-2.6 M521.40,4 v2.6 M565.30,275 v-2.6 M565.30,4 v2.6 M587.00,275 v-2.6 M587.00,4 v2.6 M630.90,275 v-2.6 M630.90,4 v2.6 M413,266.3 h2.5 M413,175.3 h2.5 M413,84.3 h2.5" stroke="#333" stroke-width="0.9" fill="none" opacity="0.7"/>
<path d="M652.6,4 V275" stroke="#222" stroke-width="0.9" opacity="0.8"/>
<text transform="translate(400.23,273.04) scale(0.08561,0.1)" font-size="208.89" fill="#000">0</text>
<text transform="translate(392.49,182.74) scale(0.07932,0.1)" font-size="209.67" fill="#000">25</text>
<text transform="translate(392.54,93.04) scale(0.07940,0.1)" font-size="208.89" fill="#000">50</text>
<text transform="translate(392.23,21.34) scale(0.07973,0.1)" font-size="212.03" fill="#000">75</text>
<text transform="translate(405.30,299.89) scale(0.07761,0.1)" font-size="209.67" fill="#000">19</text>
<text transform="translate(427.62,299.89) scale(0.07493,0.1)" font-size="208.89" fill="#000">20</text>
<text transform="translate(449.29,300.10) scale(0.07476,0.1)" font-size="212.83" fill="#000">21</text>
<text transform="translate(470.98,300.10) scale(0.07394,0.1)" font-size="212.83" fill="#000">22</text>
<text transform="translate(492.66,299.89) scale(0.07445,0.1)" font-size="209.67" fill="#000">23</text>
<text transform="translate(514.36,300.10) scale(0.07198,0.1)" font-size="212.83" fill="#000">24</text>
<text transform="translate(536.03,299.89) scale(0.07465,0.1)" font-size="209.67" fill="#000">25</text>
<text transform="translate(557.71,299.89) scale(0.07405,0.1)" font-size="209.67" fill="#000">26</text>
<text transform="translate(579.40,300.10) scale(0.07256,0.1)" font-size="212.83" fill="#000">27</text>
<text transform="translate(601.07,299.89) scale(0.07453,0.1)" font-size="208.89" fill="#000">28</text>
<text transform="translate(622.75,299.89) scale(0.07445,0.1)" font-size="209.67" fill="#000">29</text>
<text transform="translate(644.52,299.89) scale(0.07453,0.1)" font-size="208.89" fill="#000">30</text>
<text transform="translate(455.92,331.80) scale(0.07507,0.1)" font-size="291.60">Frequency(THz)</text>
<text transform="translate(386.47,260.84) scale(0.07937,0.1) rotate(-90)" font-size="287.80">Incident Angle(deg)</text>
<text transform="translate(516.85,383.16) scale(0.10625,0.1)" font-size="232.51" fill="#000">(b)</text>
<rect x="669.4" y="4" width="17.399999999999977" height="271" fill="url(#cb)"/>
<path d="M669.6999999999999,4 V275" stroke="#333" stroke-width="0.8" opacity="0.7"/>
<path d="M686.8,226.10 h-2.8 M686.8,170.50 h-2.8 M686.8,114.90 h-2.8 M686.8,59.30 h-2.8" stroke="#222" stroke-width="0.9" fill="none" opacity="0.6"/>
<text transform="translate(690.35,66.42) scale(0.07684,0.1)" font-size="189.71" fill="#000">0.8</text>
<text transform="translate(690.35,121.92) scale(0.07667,0.1)" font-size="189.71" fill="#000">0.6</text>
<text transform="translate(690.36,176.67) scale(0.07587,0.1)" font-size="189.71" fill="#000">0.4</text>
<text transform="translate(690.35,231.67) scale(0.07749,0.1)" font-size="189.71" fill="#000">0.2</text>
</svg></body></html>
